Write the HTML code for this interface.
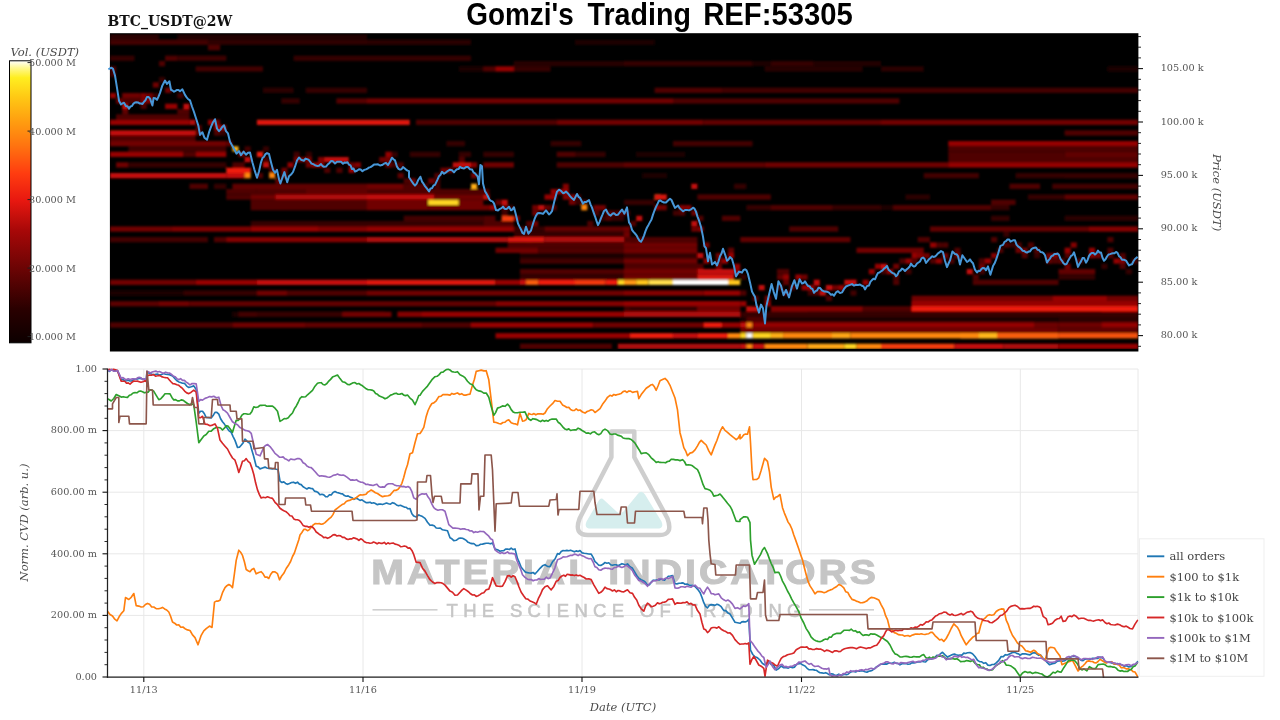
<!DOCTYPE html>
<html lang="en"><head><meta charset="utf-8"><title>Gomzi's Trading REF:53305</title>
<style>html,body{margin:0;padding:0;background:#fff;overflow:hidden}svg{display:block}text{font-family:"DejaVu Serif","Liberation Serif",serif;fill:#555}.tk{font-size:9.7px}.lb{font-size:11.5px;font-style:italic;fill:#4a4a4a}.lg{font-size:11.5px;fill:#444}.ln{fill:none;stroke-width:1.65;stroke-linejoin:round;stroke-linecap:round}</style></head><body>
<svg width="1280" height="720" viewBox="0 0 1280 720">
<defs><clipPath id="hc"><rect x="110" y="33.4" width="1028" height="317.8"/></clipPath>
<clipPath id="pc"><rect x="107.2" y="33" width="1031" height="318.5"/></clipPath>
<clipPath id="lc"><rect x="107.5" y="368" width="1031" height="310"/></clipPath>
<linearGradient id="cb" x1="0" y1="1" x2="0" y2="0">
<stop offset="0" stop-color="#0c0000"/>
<stop offset="0.12" stop-color="#2a0000"/>
<stop offset="0.26" stop-color="#6a0404"/>
<stop offset="0.4" stop-color="#a80808"/>
<stop offset="0.505" stop-color="#e81810"/>
<stop offset="0.6" stop-color="#ff3c10"/>
<stop offset="0.7" stop-color="#ff7410"/>
<stop offset="0.79" stop-color="#ffa010"/>
<stop offset="0.87" stop-color="#ffc814"/>
<stop offset="0.94" stop-color="#ffee20"/>
<stop offset="0.975" stop-color="#fff890"/>
<stop offset="1" stop-color="#ffffff"/>
</linearGradient>
<filter id="bl" x="0" y="0" width="1" height="1"><feGaussianBlur stdDeviation="0.8"/></filter>
</defs>
<rect width="1280" height="720" fill="#fff"/>
<text y="25" style="font-family:'Liberation Sans','DejaVu Sans',sans-serif;font-weight:bold;font-size:31px;fill:#000"><tspan x="466.2" textLength="107.5" lengthAdjust="spacingAndGlyphs">Gomzi's</tspan> <tspan x="587.6" textLength="103.3" lengthAdjust="spacingAndGlyphs">Trading</tspan> <tspan x="703.2" textLength="149.5" lengthAdjust="spacingAndGlyphs">REF:53305</tspan></text>
<text x="107.5" y="25.6" style="font-weight:bold;font-size:14px;fill:#111">BTC_USDT@2W</text>
<text x="10.5" y="55.5" class="lb">Vol. (USDT)</text>
<rect x="9.5" y="60.8" width="21.5" height="282" fill="url(#cb)" stroke="#000" stroke-width="1"/>
<line x1="27.5" x2="31" y1="62.6" y2="62.6" stroke="#222" stroke-width="1"/>
<text x="29" y="66.1" class="tk">50.000 M</text>
<line x1="27.5" x2="31" y1="131.1" y2="131.1" stroke="#222" stroke-width="1"/>
<text x="29" y="134.6" class="tk">40.000 M</text>
<line x1="27.5" x2="31" y1="199.6" y2="199.6" stroke="#222" stroke-width="1"/>
<text x="29" y="203.1" class="tk">30.000 M</text>
<line x1="27.5" x2="31" y1="268.1" y2="268.1" stroke="#222" stroke-width="1"/>
<text x="29" y="271.6" class="tk">20.000 M</text>
<line x1="27.5" x2="31" y1="336.6" y2="336.6" stroke="#222" stroke-width="1"/>
<text x="29" y="340.1" class="tk">10.000 M</text>
<rect x="109.9" y="33.2" width="1028.5" height="318.3" fill="#000"/>
<g clip-path="url(#hc)"><g filter="url(#bl)">
<rect x="110" y="66.3" width="6.1" height="5.3" fill="#500101"/>
<rect x="110" y="71.6" width="6.1" height="5.3" fill="#420000"/>
<rect x="122.2" y="98.3" width="6.1" height="5.3" fill="#500101"/>
<rect x="122.2" y="109" width="6.1" height="5.3" fill="#600202"/>
<rect x="140.6" y="93" width="6.1" height="5.3" fill="#830404"/>
<rect x="140.6" y="98.3" width="6.1" height="5.3" fill="#830404"/>
<rect x="140.6" y="103.7" width="6.1" height="5.3" fill="#500101"/>
<rect x="146.7" y="98.3" width="6.1" height="5.3" fill="#830404"/>
<rect x="152.8" y="93" width="6.1" height="5.3" fill="#340000"/>
<rect x="159" y="77" width="6.1" height="5.3" fill="#340000"/>
<rect x="177.3" y="93" width="6.1" height="5.3" fill="#420000"/>
<rect x="195.7" y="125" width="6.1" height="5.3" fill="#500101"/>
<rect x="195.7" y="130.3" width="6.1" height="5.3" fill="#500101"/>
<rect x="201.8" y="141" width="6.1" height="5.3" fill="#700303"/>
<rect x="214" y="119.7" width="6.1" height="5.3" fill="#700303"/>
<rect x="214" y="130.3" width="6.1" height="5.3" fill="#500101"/>
<rect x="220.1" y="130.3" width="6.1" height="5.3" fill="#340000"/>
<rect x="226.3" y="141" width="6.1" height="5.3" fill="#600202"/>
<rect x="244.6" y="146.3" width="6.1" height="5.3" fill="#420000"/>
<rect x="256.9" y="173" width="6.1" height="5.3" fill="#500101"/>
<rect x="263" y="146.3" width="6.1" height="5.3" fill="#340000"/>
<rect x="263" y="157" width="6.1" height="5.3" fill="#420000"/>
<rect x="269.1" y="167.7" width="6.1" height="5.3" fill="#500101"/>
<rect x="275.2" y="178.3" width="6.1" height="5.3" fill="#600202"/>
<rect x="281.3" y="167.7" width="6.1" height="5.3" fill="#700303"/>
<rect x="281.3" y="173" width="6.1" height="5.3" fill="#600202"/>
<rect x="293.6" y="151.7" width="6.1" height="5.3" fill="#420000"/>
<rect x="305.8" y="151.7" width="6.1" height="5.3" fill="#340000"/>
<rect x="305.8" y="162.3" width="6.1" height="5.3" fill="#700303"/>
<rect x="318" y="157" width="6.1" height="5.3" fill="#830404"/>
<rect x="324.2" y="167.7" width="6.1" height="5.3" fill="#500101"/>
<rect x="336.4" y="157" width="6.1" height="5.3" fill="#600202"/>
<rect x="336.4" y="167.7" width="6.1" height="5.3" fill="#500101"/>
<rect x="348.6" y="162.3" width="6.1" height="5.3" fill="#700303"/>
<rect x="354.8" y="162.3" width="6.1" height="5.3" fill="#830404"/>
<rect x="385.4" y="157" width="6.1" height="5.3" fill="#420000"/>
<rect x="385.4" y="162.3" width="6.1" height="5.3" fill="#700303"/>
<rect x="391.5" y="151.7" width="6.1" height="5.3" fill="#340000"/>
<rect x="391.5" y="162.3" width="6.1" height="5.3" fill="#420000"/>
<rect x="397.6" y="162.3" width="6.1" height="5.3" fill="#500101"/>
<rect x="397.6" y="173" width="6.1" height="5.3" fill="#600202"/>
<rect x="409.8" y="178.3" width="6.1" height="5.3" fill="#700303"/>
<rect x="422.1" y="189" width="6.1" height="5.3" fill="#500101"/>
<rect x="428.2" y="194.4" width="6.1" height="5.3" fill="#420000"/>
<rect x="434.3" y="173" width="6.1" height="5.3" fill="#500101"/>
<rect x="434.3" y="178.3" width="6.1" height="5.3" fill="#420000"/>
<rect x="434.3" y="183.7" width="6.1" height="5.3" fill="#420000"/>
<rect x="446.5" y="167.7" width="6.1" height="5.3" fill="#600202"/>
<rect x="458.8" y="157" width="6.1" height="5.3" fill="#500101"/>
<rect x="464.9" y="162.3" width="6.1" height="5.3" fill="#340000"/>
<rect x="471" y="162.3" width="6.1" height="5.3" fill="#830404"/>
<rect x="471" y="173" width="6.1" height="5.3" fill="#700303"/>
<rect x="483.3" y="189" width="6.1" height="5.3" fill="#500101"/>
<rect x="495.5" y="199.7" width="6.1" height="5.3" fill="#600202"/>
<rect x="501.6" y="205" width="6.1" height="5.3" fill="#600202"/>
<rect x="501.6" y="210.4" width="6.1" height="5.3" fill="#420000"/>
<rect x="507.7" y="205" width="6.1" height="5.3" fill="#340000"/>
<rect x="507.7" y="215.7" width="6.1" height="5.3" fill="#340000"/>
<rect x="520" y="226.4" width="6.1" height="5.3" fill="#340000"/>
<rect x="526.1" y="237" width="6.1" height="5.3" fill="#700303"/>
<rect x="532.2" y="221" width="6.1" height="5.3" fill="#700303"/>
<rect x="544.5" y="205" width="6.1" height="5.3" fill="#600202"/>
<rect x="550.6" y="194.4" width="6.1" height="5.3" fill="#420000"/>
<rect x="550.6" y="205" width="6.1" height="5.3" fill="#500101"/>
<rect x="562.8" y="183.7" width="6.1" height="5.3" fill="#830404"/>
<rect x="562.8" y="194.4" width="6.1" height="5.3" fill="#830404"/>
<rect x="568.9" y="194.4" width="6.1" height="5.3" fill="#830404"/>
<rect x="575" y="194.4" width="6.1" height="5.3" fill="#420000"/>
<rect x="575" y="199.7" width="6.1" height="5.3" fill="#340000"/>
<rect x="581.2" y="199.7" width="6.1" height="5.3" fill="#500101"/>
<rect x="593.4" y="210.4" width="6.1" height="5.3" fill="#500101"/>
<rect x="599.5" y="205" width="6.1" height="5.3" fill="#700303"/>
<rect x="599.5" y="215.7" width="6.1" height="5.3" fill="#340000"/>
<rect x="605.6" y="210.4" width="6.1" height="5.3" fill="#500101"/>
<rect x="605.6" y="215.7" width="6.1" height="5.3" fill="#500101"/>
<rect x="611.8" y="215.7" width="6.1" height="5.3" fill="#340000"/>
<rect x="617.9" y="215.7" width="6.1" height="5.3" fill="#340000"/>
<rect x="624" y="210.4" width="6.1" height="5.3" fill="#420000"/>
<rect x="630.1" y="221" width="6.1" height="5.3" fill="#500101"/>
<rect x="636.2" y="242.4" width="6.1" height="5.3" fill="#420000"/>
<rect x="654.6" y="205" width="6.1" height="5.3" fill="#830404"/>
<rect x="660.7" y="205" width="6.1" height="5.3" fill="#700303"/>
<rect x="673" y="210.4" width="6.1" height="5.3" fill="#420000"/>
<rect x="679.1" y="205" width="6.1" height="5.3" fill="#830404"/>
<rect x="679.1" y="210.4" width="6.1" height="5.3" fill="#500101"/>
<rect x="685.2" y="205" width="6.1" height="5.3" fill="#830404"/>
<rect x="691.3" y="210.4" width="6.1" height="5.3" fill="#700303"/>
<rect x="697.4" y="215.7" width="6.1" height="5.3" fill="#500101"/>
<rect x="697.4" y="226.4" width="6.1" height="5.3" fill="#830404"/>
<rect x="703.5" y="242.4" width="6.1" height="5.3" fill="#700303"/>
<rect x="709.7" y="269" width="6.1" height="5.3" fill="#500101"/>
<rect x="715.8" y="258.4" width="6.1" height="5.3" fill="#600202"/>
<rect x="715.8" y="263.7" width="6.1" height="5.3" fill="#700303"/>
<rect x="728" y="247.7" width="6.1" height="5.3" fill="#600202"/>
<rect x="734.1" y="269" width="6.1" height="5.3" fill="#830404"/>
<rect x="740.3" y="274.4" width="6.1" height="5.3" fill="#340000"/>
<rect x="752.5" y="295.7" width="6.1" height="5.3" fill="#500101"/>
<rect x="764.7" y="295.7" width="6.1" height="5.3" fill="#700303"/>
<rect x="777" y="274.4" width="6.1" height="5.3" fill="#600202"/>
<rect x="777" y="285" width="6.1" height="5.3" fill="#420000"/>
<rect x="783.1" y="279.7" width="6.1" height="5.3" fill="#600202"/>
<rect x="783.1" y="290.4" width="6.1" height="5.3" fill="#500101"/>
<rect x="789.2" y="285" width="6.1" height="5.3" fill="#500101"/>
<rect x="801.5" y="274.4" width="6.1" height="5.3" fill="#700303"/>
<rect x="807.6" y="285" width="6.1" height="5.3" fill="#500101"/>
<rect x="807.6" y="290.4" width="6.1" height="5.3" fill="#420000"/>
<rect x="813.7" y="285" width="6.1" height="5.3" fill="#340000"/>
<rect x="813.7" y="290.4" width="6.1" height="5.3" fill="#500101"/>
<rect x="825.9" y="295.7" width="6.1" height="5.3" fill="#500101"/>
<rect x="832" y="285" width="6.1" height="5.3" fill="#700303"/>
<rect x="850.4" y="279.7" width="6.1" height="5.3" fill="#420000"/>
<rect x="850.4" y="290.4" width="6.1" height="5.3" fill="#420000"/>
<rect x="881" y="269" width="6.1" height="5.3" fill="#420000"/>
<rect x="893.2" y="274.4" width="6.1" height="5.3" fill="#500101"/>
<rect x="893.2" y="279.7" width="6.1" height="5.3" fill="#500101"/>
<rect x="899.4" y="258.4" width="6.1" height="5.3" fill="#500101"/>
<rect x="905.5" y="269" width="6.1" height="5.3" fill="#420000"/>
<rect x="911.6" y="258.4" width="6.1" height="5.3" fill="#500101"/>
<rect x="917.7" y="253" width="6.1" height="5.3" fill="#830404"/>
<rect x="930" y="258.4" width="6.1" height="5.3" fill="#500101"/>
<rect x="936.1" y="242.4" width="6.1" height="5.3" fill="#500101"/>
<rect x="942.2" y="253" width="6.1" height="5.3" fill="#700303"/>
<rect x="948.3" y="258.4" width="6.1" height="5.3" fill="#500101"/>
<rect x="954.4" y="247.7" width="6.1" height="5.3" fill="#500101"/>
<rect x="972.8" y="274.4" width="6.1" height="5.3" fill="#500101"/>
<rect x="978.9" y="258.4" width="6.1" height="5.3" fill="#500101"/>
<rect x="978.9" y="269" width="6.1" height="5.3" fill="#420000"/>
<rect x="991.1" y="253" width="6.1" height="5.3" fill="#830404"/>
<rect x="997.3" y="247.7" width="6.1" height="5.3" fill="#500101"/>
<rect x="1003.4" y="231.7" width="6.1" height="5.3" fill="#340000"/>
<rect x="1009.5" y="242.4" width="6.1" height="5.3" fill="#340000"/>
<rect x="1015.6" y="242.4" width="6.1" height="5.3" fill="#500101"/>
<rect x="1021.7" y="247.7" width="6.1" height="5.3" fill="#700303"/>
<rect x="1021.7" y="253" width="6.1" height="5.3" fill="#500101"/>
<rect x="1034" y="247.7" width="6.1" height="5.3" fill="#500101"/>
<rect x="1034" y="253" width="6.1" height="5.3" fill="#340000"/>
<rect x="1046.2" y="253" width="6.1" height="5.3" fill="#700303"/>
<rect x="1046.2" y="258.4" width="6.1" height="5.3" fill="#600202"/>
<rect x="1052.3" y="253" width="6.1" height="5.3" fill="#830404"/>
<rect x="1058.5" y="258.4" width="6.1" height="5.3" fill="#600202"/>
<rect x="1064.6" y="253" width="6.1" height="5.3" fill="#500101"/>
<rect x="1064.6" y="263.7" width="6.1" height="5.3" fill="#700303"/>
<rect x="1070.7" y="242.4" width="6.1" height="5.3" fill="#830404"/>
<rect x="1076.8" y="258.4" width="6.1" height="5.3" fill="#500101"/>
<rect x="1089" y="253" width="6.1" height="5.3" fill="#830404"/>
<rect x="1101.3" y="263.7" width="6.1" height="5.3" fill="#340000"/>
<rect x="1107.4" y="247.7" width="6.1" height="5.3" fill="#500101"/>
<rect x="1107.4" y="253" width="6.1" height="5.3" fill="#500101"/>
<rect x="1119.6" y="253" width="6.1" height="5.3" fill="#500101"/>
<rect x="1119.6" y="258.4" width="6.1" height="5.3" fill="#830404"/>
<rect x="1119.6" y="263.7" width="6.1" height="5.3" fill="#500101"/>
<rect x="1125.8" y="269" width="6.1" height="5.3" fill="#340000"/>
<rect x="1131.9" y="258.4" width="6.1" height="5.3" fill="#420000"/>
<rect x="110" y="34.3" width="49" height="5.3" fill="#290000"/>
<rect x="177.3" y="34.3" width="189.7" height="5.3" fill="#220000"/>
<rect x="110" y="39.6" width="97.9" height="5.3" fill="#420000"/>
<rect x="207.9" y="39.6" width="159.1" height="5.3" fill="#2d0000"/>
<rect x="367" y="39.6" width="104" height="5.3" fill="#290000"/>
<rect x="575" y="39.6" width="49" height="5.3" fill="#1e0000"/>
<rect x="624" y="39.6" width="30.6" height="5.3" fill="#1e0000"/>
<rect x="207.9" y="45" width="12.2" height="5.3" fill="#500101"/>
<rect x="110" y="55.6" width="24.5" height="5.3" fill="#340000"/>
<rect x="165.1" y="55.6" width="12.2" height="5.3" fill="#500101"/>
<rect x="177.3" y="55.6" width="49" height="5.3" fill="#3c0000"/>
<rect x="293.6" y="55.6" width="73.4" height="5.3" fill="#340000"/>
<rect x="367" y="55.6" width="104" height="5.3" fill="#340000"/>
<rect x="159" y="61" width="6.1" height="5.3" fill="#500101"/>
<rect x="513.9" y="61" width="110.1" height="5.3" fill="#270000"/>
<rect x="624" y="61" width="128.5" height="5.3" fill="#340000"/>
<rect x="752.5" y="61" width="18.4" height="5.3" fill="#1e0000"/>
<rect x="770.9" y="61" width="42.8" height="5.3" fill="#340000"/>
<rect x="813.7" y="61" width="67.3" height="5.3" fill="#220000"/>
<rect x="195.7" y="66.3" width="67.3" height="5.3" fill="#3f0000"/>
<rect x="458.8" y="66.3" width="24.5" height="5.3" fill="#1e0000"/>
<rect x="483.3" y="66.3" width="12.2" height="5.3" fill="#500101"/>
<rect x="495.5" y="66.3" width="18.4" height="5.3" fill="#960606"/>
<rect x="513.9" y="66.3" width="36.7" height="5.3" fill="#340000"/>
<rect x="764.7" y="66.3" width="97.9" height="5.3" fill="#270000"/>
<rect x="881" y="66.3" width="42.8" height="5.3" fill="#290000"/>
<rect x="1107.4" y="66.3" width="30.6" height="5.3" fill="#1e0000"/>
<rect x="152.8" y="82.3" width="6.1" height="5.3" fill="#700303"/>
<rect x="165.1" y="87.7" width="6.1" height="5.3" fill="#700303"/>
<rect x="263" y="87.7" width="30.6" height="5.3" fill="#2b0000"/>
<rect x="305.8" y="87.7" width="61.2" height="5.3" fill="#340000"/>
<rect x="654.6" y="87.7" width="67.3" height="5.3" fill="#500101"/>
<rect x="721.9" y="87.7" width="159.1" height="5.3" fill="#3f0000"/>
<rect x="881" y="87.7" width="257" height="5.3" fill="#420000"/>
<rect x="110" y="93" width="6.1" height="5.3" fill="#960606"/>
<rect x="122.2" y="93" width="18.4" height="5.3" fill="#700303"/>
<rect x="146.7" y="93" width="6.1" height="5.3" fill="#700303"/>
<rect x="116.1" y="98.3" width="6.1" height="5.3" fill="#700303"/>
<rect x="122.2" y="98.3" width="18.4" height="5.3" fill="#500101"/>
<rect x="281.3" y="98.3" width="18.4" height="5.3" fill="#340000"/>
<rect x="336.4" y="98.3" width="30.6" height="5.3" fill="#560101"/>
<rect x="367" y="98.3" width="257" height="5.3" fill="#700303"/>
<rect x="624" y="98.3" width="49" height="5.3" fill="#700303"/>
<rect x="673" y="98.3" width="208" height="5.3" fill="#500101"/>
<rect x="881" y="98.3" width="18.4" height="5.3" fill="#500101"/>
<rect x="122.2" y="103.7" width="6.1" height="5.3" fill="#c40a08"/>
<rect x="165.1" y="103.7" width="12.2" height="5.3" fill="#960606"/>
<rect x="183.4" y="103.7" width="6.1" height="5.3" fill="#c40a08"/>
<rect x="177.3" y="109" width="12.2" height="5.3" fill="#500101"/>
<rect x="116.1" y="114.3" width="73.4" height="5.3" fill="#500101"/>
<rect x="110" y="119.7" width="79.5" height="5.3" fill="#960606"/>
<rect x="189.5" y="119.7" width="6.1" height="5.3" fill="#b20807"/>
<rect x="207.9" y="119.7" width="6.1" height="5.3" fill="#960606"/>
<rect x="256.9" y="119.7" width="110.1" height="5.3" fill="#dd150a"/>
<rect x="367" y="119.7" width="42.8" height="5.3" fill="#dd150a"/>
<rect x="416" y="119.7" width="140.7" height="5.3" fill="#500101"/>
<rect x="556.7" y="119.7" width="67.3" height="5.3" fill="#700303"/>
<rect x="624" y="119.7" width="79.5" height="5.3" fill="#700303"/>
<rect x="703.5" y="119.7" width="177.5" height="5.3" fill="#600202"/>
<rect x="881" y="119.7" width="257" height="5.3" fill="#700303"/>
<rect x="214" y="125" width="12.2" height="5.3" fill="#960606"/>
<rect x="110" y="130.3" width="85.7" height="5.3" fill="#c40a08"/>
<rect x="1064.6" y="130.3" width="73.4" height="5.3" fill="#500101"/>
<rect x="110" y="135.7" width="85.7" height="5.3" fill="#500101"/>
<rect x="110" y="141" width="116.3" height="5.3" fill="#700303"/>
<rect x="446.5" y="141" width="18.4" height="5.3" fill="#340000"/>
<rect x="550.6" y="141" width="30.6" height="5.3" fill="#340000"/>
<rect x="673" y="141" width="79.5" height="5.3" fill="#420000"/>
<rect x="948.3" y="141" width="189.7" height="5.3" fill="#960606"/>
<rect x="128.4" y="146.3" width="97.9" height="5.3" fill="#420000"/>
<rect x="232.4" y="146.3" width="6.1" height="5.3" fill="#ffb71a"/>
<rect x="948.3" y="146.3" width="189.7" height="5.3" fill="#500101"/>
<rect x="110" y="151.7" width="73.4" height="5.3" fill="#960606"/>
<rect x="183.4" y="151.7" width="12.2" height="5.3" fill="#500101"/>
<rect x="195.7" y="151.7" width="30.6" height="5.3" fill="#960606"/>
<rect x="238.5" y="151.7" width="6.1" height="5.3" fill="#700303"/>
<rect x="256.9" y="151.7" width="6.1" height="5.3" fill="#ee1c0c"/>
<rect x="385.4" y="151.7" width="6.1" height="5.3" fill="#960606"/>
<rect x="409.8" y="151.7" width="30.6" height="5.3" fill="#340000"/>
<rect x="458.8" y="151.7" width="12.2" height="5.3" fill="#340000"/>
<rect x="483.3" y="151.7" width="30.6" height="5.3" fill="#340000"/>
<rect x="556.7" y="151.7" width="18.4" height="5.3" fill="#500101"/>
<rect x="575" y="151.7" width="30.6" height="5.3" fill="#340000"/>
<rect x="636.2" y="151.7" width="49" height="5.3" fill="#1e0000"/>
<rect x="948.3" y="151.7" width="116.3" height="5.3" fill="#500101"/>
<rect x="1064.6" y="151.7" width="73.4" height="5.3" fill="#600202"/>
<rect x="244.6" y="157" width="6.1" height="5.3" fill="#c40a08"/>
<rect x="293.6" y="157" width="18.4" height="5.3" fill="#700303"/>
<rect x="324.2" y="157" width="24.5" height="5.3" fill="#c40a08"/>
<rect x="379.2" y="157" width="12.2" height="5.3" fill="#700303"/>
<rect x="948.3" y="157" width="189.7" height="5.3" fill="#500101"/>
<rect x="116.1" y="162.3" width="12.2" height="5.3" fill="#700303"/>
<rect x="128.4" y="162.3" width="97.9" height="5.3" fill="#340000"/>
<rect x="232.4" y="162.3" width="12.2" height="5.3" fill="#500101"/>
<rect x="263" y="162.3" width="6.1" height="5.3" fill="#c40a08"/>
<rect x="287.5" y="162.3" width="6.1" height="5.3" fill="#960606"/>
<rect x="311.9" y="162.3" width="12.2" height="5.3" fill="#960606"/>
<rect x="452.7" y="162.3" width="18.4" height="5.3" fill="#c40a08"/>
<rect x="483.3" y="162.3" width="30.6" height="5.3" fill="#700303"/>
<rect x="556.7" y="162.3" width="67.3" height="5.3" fill="#500101"/>
<rect x="624" y="162.3" width="140.7" height="5.3" fill="#600202"/>
<rect x="764.7" y="162.3" width="116.3" height="5.3" fill="#700303"/>
<rect x="881" y="162.3" width="67.3" height="5.3" fill="#700303"/>
<rect x="948.3" y="162.3" width="189.7" height="5.3" fill="#960606"/>
<rect x="226.3" y="167.7" width="24.5" height="5.3" fill="#ee1c0c"/>
<rect x="348.6" y="167.7" width="6.1" height="5.3" fill="#960606"/>
<rect x="440.4" y="167.7" width="12.2" height="5.3" fill="#700303"/>
<rect x="110" y="173" width="116.3" height="5.3" fill="#c40a08"/>
<rect x="226.3" y="173" width="18.4" height="5.3" fill="#c40a08"/>
<rect x="244.6" y="173" width="6.1" height="5.3" fill="#ff8810"/>
<rect x="269.1" y="173" width="6.1" height="5.3" fill="#ff8810"/>
<rect x="642.4" y="173" width="24.5" height="5.3" fill="#1e0000"/>
<rect x="923.8" y="173" width="55.1" height="5.3" fill="#420000"/>
<rect x="1015.6" y="173" width="122.4" height="5.3" fill="#340000"/>
<rect x="1064.6" y="173" width="73.4" height="5.3" fill="#340000"/>
<rect x="403.7" y="178.3" width="6.1" height="5.3" fill="#500101"/>
<rect x="428.2" y="178.3" width="6.1" height="5.3" fill="#700303"/>
<rect x="189.5" y="183.7" width="18.4" height="5.3" fill="#500101"/>
<rect x="214" y="183.7" width="12.2" height="5.3" fill="#340000"/>
<rect x="232.4" y="183.7" width="134.6" height="5.3" fill="#600202"/>
<rect x="367" y="183.7" width="36.7" height="5.3" fill="#700303"/>
<rect x="403.7" y="183.7" width="24.5" height="5.3" fill="#500101"/>
<rect x="471" y="183.7" width="6.1" height="5.3" fill="#ffaf18"/>
<rect x="691.3" y="183.7" width="6.1" height="5.3" fill="#c40a08"/>
<rect x="734.1" y="183.7" width="12.2" height="5.3" fill="#340000"/>
<rect x="1009.5" y="183.7" width="30.6" height="5.3" fill="#500101"/>
<rect x="1052.3" y="183.7" width="85.7" height="5.3" fill="#420000"/>
<rect x="226.3" y="189" width="30.6" height="5.3" fill="#500101"/>
<rect x="256.9" y="189" width="49" height="5.3" fill="#500101"/>
<rect x="305.8" y="189" width="61.2" height="5.3" fill="#600202"/>
<rect x="367" y="189" width="61.2" height="5.3" fill="#500101"/>
<rect x="428.2" y="189" width="55.1" height="5.3" fill="#500101"/>
<rect x="550.6" y="189" width="6.1" height="5.3" fill="#960606"/>
<rect x="556.7" y="189" width="12.2" height="5.3" fill="#960606"/>
<rect x="226.3" y="194.4" width="24.5" height="5.3" fill="#500101"/>
<rect x="250.7" y="194.4" width="24.5" height="5.3" fill="#700303"/>
<rect x="275.2" y="194.4" width="91.8" height="5.3" fill="#b20807"/>
<rect x="367" y="194.4" width="67.3" height="5.3" fill="#c40a08"/>
<rect x="434.3" y="194.4" width="49" height="5.3" fill="#700303"/>
<rect x="483.3" y="194.4" width="6.1" height="5.3" fill="#c40a08"/>
<rect x="544.5" y="194.4" width="12.2" height="5.3" fill="#960606"/>
<rect x="654.6" y="194.4" width="6.1" height="5.3" fill="#ff8810"/>
<rect x="654.6" y="194.4" width="12.2" height="5.3" fill="#d9130a"/>
<rect x="697.4" y="194.4" width="73.4" height="5.3" fill="#500101"/>
<rect x="905.5" y="194.4" width="24.5" height="5.3" fill="#290000"/>
<rect x="1027.9" y="194.4" width="36.7" height="5.3" fill="#340000"/>
<rect x="1064.6" y="194.4" width="73.4" height="5.3" fill="#600202"/>
<rect x="250.7" y="199.7" width="116.3" height="5.3" fill="#500101"/>
<rect x="367" y="199.7" width="61.2" height="5.3" fill="#700303"/>
<rect x="428.2" y="199.7" width="30.6" height="5.3" fill="#ffd620"/>
<rect x="458.8" y="199.7" width="24.5" height="5.3" fill="#700303"/>
<rect x="501.6" y="199.7" width="6.1" height="5.3" fill="#c40a08"/>
<rect x="568.9" y="199.7" width="6.1" height="5.3" fill="#700303"/>
<rect x="624" y="199.7" width="30.6" height="5.3" fill="#340000"/>
<rect x="991.1" y="199.7" width="24.5" height="5.3" fill="#500101"/>
<rect x="250.7" y="205" width="116.3" height="5.3" fill="#500101"/>
<rect x="367" y="205" width="61.2" height="5.3" fill="#700303"/>
<rect x="428.2" y="205" width="61.2" height="5.3" fill="#700303"/>
<rect x="489.4" y="205" width="6.1" height="5.3" fill="#960606"/>
<rect x="532.2" y="205" width="6.1" height="5.3" fill="#700303"/>
<rect x="538.3" y="205" width="6.1" height="5.3" fill="#c40a08"/>
<rect x="581.2" y="205" width="6.1" height="5.3" fill="#ff8810"/>
<rect x="593.4" y="205" width="12.2" height="5.3" fill="#700303"/>
<rect x="746.4" y="205" width="24.5" height="5.3" fill="#340000"/>
<rect x="770.9" y="205" width="61.2" height="5.3" fill="#500101"/>
<rect x="832" y="205" width="49" height="5.3" fill="#340000"/>
<rect x="881" y="205" width="12.2" height="5.3" fill="#1e0000"/>
<rect x="893.2" y="205" width="97.9" height="5.3" fill="#500101"/>
<rect x="991.1" y="205" width="18.4" height="5.3" fill="#340000"/>
<rect x="532.2" y="210.4" width="6.1" height="5.3" fill="#700303"/>
<rect x="605.6" y="210.4" width="18.4" height="5.3" fill="#500101"/>
<rect x="403.7" y="215.7" width="79.5" height="5.3" fill="#420000"/>
<rect x="483.3" y="215.7" width="12.2" height="5.3" fill="#500101"/>
<rect x="501.6" y="215.7" width="12.2" height="5.3" fill="#f33c0d"/>
<rect x="513.9" y="215.7" width="6.1" height="5.3" fill="#700303"/>
<rect x="636.2" y="215.7" width="6.1" height="5.3" fill="#c40a08"/>
<rect x="721.9" y="215.7" width="18.4" height="5.3" fill="#500101"/>
<rect x="991.1" y="215.7" width="18.4" height="5.3" fill="#340000"/>
<rect x="1064.6" y="215.7" width="73.4" height="5.3" fill="#290000"/>
<rect x="250.7" y="221" width="116.3" height="5.3" fill="#340000"/>
<rect x="367" y="221" width="116.3" height="5.3" fill="#340000"/>
<rect x="483.3" y="221" width="30.6" height="5.3" fill="#500101"/>
<rect x="526.1" y="221" width="6.1" height="5.3" fill="#500101"/>
<rect x="587.3" y="221" width="6.1" height="5.3" fill="#500101"/>
<rect x="691.3" y="221" width="6.1" height="5.3" fill="#c40a08"/>
<rect x="110" y="226.4" width="61.2" height="5.3" fill="#700303"/>
<rect x="171.2" y="226.4" width="79.5" height="5.3" fill="#7b0404"/>
<rect x="250.7" y="226.4" width="67.3" height="5.3" fill="#960606"/>
<rect x="318" y="226.4" width="49" height="5.3" fill="#830404"/>
<rect x="367" y="226.4" width="146.9" height="5.3" fill="#960606"/>
<rect x="513.9" y="226.4" width="30.6" height="5.3" fill="#340000"/>
<rect x="544.5" y="226.4" width="79.5" height="5.3" fill="#600202"/>
<rect x="624" y="226.4" width="6.1" height="5.3" fill="#700303"/>
<rect x="691.3" y="226.4" width="6.1" height="5.3" fill="#700303"/>
<rect x="789.2" y="226.4" width="49" height="5.3" fill="#500101"/>
<rect x="930" y="226.4" width="159.1" height="5.3" fill="#600202"/>
<rect x="1089" y="226.4" width="49" height="5.3" fill="#830404"/>
<rect x="513.9" y="231.7" width="110.1" height="5.3" fill="#340000"/>
<rect x="624" y="231.7" width="6.1" height="5.3" fill="#700303"/>
<rect x="110" y="237" width="97.9" height="5.3" fill="#420000"/>
<rect x="214" y="237" width="12.2" height="5.3" fill="#500101"/>
<rect x="226.3" y="237" width="140.7" height="5.3" fill="#830404"/>
<rect x="367" y="237" width="140.7" height="5.3" fill="#ad0807"/>
<rect x="507.7" y="237" width="36.7" height="5.3" fill="#d9130a"/>
<rect x="544.5" y="237" width="79.5" height="5.3" fill="#ad0807"/>
<rect x="624" y="237" width="6.1" height="5.3" fill="#c40a08"/>
<rect x="624" y="237" width="73.4" height="5.3" fill="#500101"/>
<rect x="740.3" y="237" width="110.1" height="5.3" fill="#600202"/>
<rect x="917.7" y="237" width="12.2" height="5.3" fill="#500101"/>
<rect x="991.1" y="237" width="6.1" height="5.3" fill="#500101"/>
<rect x="1107.4" y="237" width="6.1" height="5.3" fill="#500101"/>
<rect x="507.7" y="242.4" width="116.3" height="5.3" fill="#500101"/>
<rect x="624" y="242.4" width="73.4" height="5.3" fill="#700303"/>
<rect x="930" y="242.4" width="6.1" height="5.3" fill="#960606"/>
<rect x="942.2" y="242.4" width="6.1" height="5.3" fill="#500101"/>
<rect x="1003.4" y="242.4" width="6.1" height="5.3" fill="#500101"/>
<rect x="1027.9" y="242.4" width="6.1" height="5.3" fill="#500101"/>
<rect x="495.5" y="247.7" width="42.8" height="5.3" fill="#700303"/>
<rect x="538.3" y="247.7" width="85.7" height="5.3" fill="#500101"/>
<rect x="624" y="247.7" width="73.4" height="5.3" fill="#700303"/>
<rect x="856.5" y="247.7" width="24.5" height="5.3" fill="#700303"/>
<rect x="881" y="247.7" width="42.8" height="5.3" fill="#700303"/>
<rect x="1015.6" y="247.7" width="6.1" height="5.3" fill="#700303"/>
<rect x="1064.6" y="247.7" width="6.1" height="5.3" fill="#960606"/>
<rect x="1089" y="247.7" width="6.1" height="5.3" fill="#960606"/>
<rect x="520" y="253" width="104" height="5.3" fill="#1e0000"/>
<rect x="624" y="253" width="73.4" height="5.3" fill="#340000"/>
<rect x="697.4" y="253" width="6.1" height="5.3" fill="#c40a08"/>
<rect x="715.8" y="253" width="6.1" height="5.3" fill="#700303"/>
<rect x="728" y="253" width="6.1" height="5.3" fill="#960606"/>
<rect x="911.6" y="253" width="6.1" height="5.3" fill="#960606"/>
<rect x="923.8" y="253" width="6.1" height="5.3" fill="#700303"/>
<rect x="954.4" y="253" width="6.1" height="5.3" fill="#700303"/>
<rect x="1095.2" y="253" width="6.1" height="5.3" fill="#700303"/>
<rect x="520" y="258.4" width="104" height="5.3" fill="#420000"/>
<rect x="624" y="258.4" width="73.4" height="5.3" fill="#700303"/>
<rect x="703.5" y="258.4" width="6.1" height="5.3" fill="#960606"/>
<rect x="721.9" y="258.4" width="6.1" height="5.3" fill="#960606"/>
<rect x="905.5" y="258.4" width="6.1" height="5.3" fill="#960606"/>
<rect x="936.1" y="258.4" width="6.1" height="5.3" fill="#960606"/>
<rect x="985" y="258.4" width="6.1" height="5.3" fill="#960606"/>
<rect x="1052.3" y="258.4" width="6.1" height="5.3" fill="#500101"/>
<rect x="1113.5" y="258.4" width="6.1" height="5.3" fill="#960606"/>
<rect x="624" y="263.7" width="79.5" height="5.3" fill="#500101"/>
<rect x="734.1" y="263.7" width="6.1" height="5.3" fill="#960606"/>
<rect x="874.9" y="263.7" width="6.1" height="5.3" fill="#960606"/>
<rect x="881" y="263.7" width="6.1" height="5.3" fill="#c40a08"/>
<rect x="893.2" y="263.7" width="6.1" height="5.3" fill="#700303"/>
<rect x="978.9" y="263.7" width="6.1" height="5.3" fill="#700303"/>
<rect x="520" y="269" width="104" height="5.3" fill="#500101"/>
<rect x="624" y="269" width="73.4" height="5.3" fill="#700303"/>
<rect x="697.4" y="269" width="36.7" height="5.3" fill="#c40a08"/>
<rect x="777" y="269" width="12.2" height="5.3" fill="#500101"/>
<rect x="868.8" y="269" width="6.1" height="5.3" fill="#960606"/>
<rect x="887.1" y="269" width="6.1" height="5.3" fill="#960606"/>
<rect x="966.7" y="269" width="6.1" height="5.3" fill="#c40a08"/>
<rect x="1058.5" y="269" width="36.7" height="5.3" fill="#600202"/>
<rect x="520" y="274.4" width="104" height="5.3" fill="#340000"/>
<rect x="624" y="274.4" width="73.4" height="5.3" fill="#700303"/>
<rect x="697.4" y="274.4" width="36.7" height="5.3" fill="#dd150a"/>
<rect x="783.1" y="274.4" width="6.1" height="5.3" fill="#960606"/>
<rect x="795.3" y="274.4" width="6.1" height="5.3" fill="#960606"/>
<rect x="1058.5" y="274.4" width="36.7" height="5.3" fill="#340000"/>
<rect x="110" y="279.7" width="85.7" height="5.3" fill="#700303"/>
<rect x="195.7" y="279.7" width="61.2" height="5.3" fill="#960606"/>
<rect x="256.9" y="279.7" width="110.1" height="5.3" fill="#c40a08"/>
<rect x="367" y="279.7" width="128.5" height="5.3" fill="#dd150a"/>
<rect x="495.5" y="279.7" width="24.5" height="5.3" fill="#960606"/>
<rect x="520" y="279.7" width="6.1" height="5.3" fill="#c40a08"/>
<rect x="526.1" y="279.7" width="12.2" height="5.3" fill="#f85d0e"/>
<rect x="538.3" y="279.7" width="36.7" height="5.3" fill="#ee1c0c"/>
<rect x="575" y="279.7" width="30.6" height="5.3" fill="#f2370d"/>
<rect x="605.6" y="279.7" width="12.2" height="5.3" fill="#ee1c0c"/>
<rect x="617.9" y="279.7" width="6.1" height="5.3" fill="#ffd620"/>
<rect x="624" y="279.7" width="12.2" height="5.3" fill="#ff9813"/>
<rect x="636.2" y="279.7" width="12.2" height="5.3" fill="#ffc61d"/>
<rect x="648.5" y="279.7" width="24.5" height="5.3" fill="#ffde4d"/>
<rect x="673" y="279.7" width="55.1" height="5.3" fill="#ffffff"/>
<rect x="728" y="279.7" width="12.2" height="5.3" fill="#ffc61d"/>
<rect x="813.7" y="279.7" width="6.1" height="5.3" fill="#c40a08"/>
<rect x="844.3" y="279.7" width="12.2" height="5.3" fill="#c40a08"/>
<rect x="862.6" y="279.7" width="6.1" height="5.3" fill="#960606"/>
<rect x="972.8" y="279.7" width="85.7" height="5.3" fill="#500101"/>
<rect x="758.6" y="285" width="6.1" height="5.3" fill="#c40a08"/>
<rect x="801.5" y="285" width="12.2" height="5.3" fill="#960606"/>
<rect x="825.9" y="285" width="6.1" height="5.3" fill="#c40a08"/>
<rect x="838.2" y="285" width="6.1" height="5.3" fill="#960606"/>
<rect x="110" y="290.4" width="73.4" height="5.3" fill="#1e0000"/>
<rect x="183.4" y="290.4" width="73.4" height="5.3" fill="#340000"/>
<rect x="256.9" y="290.4" width="30.6" height="5.3" fill="#700303"/>
<rect x="287.5" y="290.4" width="79.5" height="5.3" fill="#500101"/>
<rect x="367" y="290.4" width="257" height="5.3" fill="#700303"/>
<rect x="624" y="290.4" width="79.5" height="5.3" fill="#830404"/>
<rect x="703.5" y="290.4" width="36.7" height="5.3" fill="#960606"/>
<rect x="740.3" y="290.4" width="6.1" height="5.3" fill="#500101"/>
<rect x="819.8" y="290.4" width="6.1" height="5.3" fill="#c40a08"/>
<rect x="911.6" y="295.7" width="140.7" height="5.3" fill="#700303"/>
<rect x="1052.3" y="295.7" width="55.1" height="5.3" fill="#960606"/>
<rect x="1107.4" y="295.7" width="30.6" height="5.3" fill="#700303"/>
<rect x="110" y="301.1" width="49" height="5.3" fill="#5a0202"/>
<rect x="159" y="301.1" width="30.6" height="5.3" fill="#700303"/>
<rect x="189.5" y="301.1" width="177.5" height="5.3" fill="#600202"/>
<rect x="367" y="301.1" width="128.5" height="5.3" fill="#600202"/>
<rect x="495.5" y="301.1" width="128.5" height="5.3" fill="#830404"/>
<rect x="624" y="301.1" width="116.3" height="5.3" fill="#960606"/>
<rect x="630.1" y="301.1" width="110.1" height="5.3" fill="#960606"/>
<rect x="740.3" y="301.1" width="6.1" height="5.3" fill="#960606"/>
<rect x="764.7" y="301.1" width="6.1" height="5.3" fill="#960606"/>
<rect x="911.6" y="301.1" width="146.9" height="5.3" fill="#ad0807"/>
<rect x="911.6" y="301.1" width="226.4" height="5.3" fill="#960606"/>
<rect x="1058.5" y="301.1" width="79.5" height="5.3" fill="#960606"/>
<rect x="624" y="306.4" width="73.4" height="5.3" fill="#420000"/>
<rect x="630.1" y="306.4" width="67.3" height="5.3" fill="#340000"/>
<rect x="697.4" y="306.4" width="42.8" height="5.3" fill="#700303"/>
<rect x="697.4" y="306.4" width="42.8" height="5.3" fill="#700303"/>
<rect x="746.4" y="306.4" width="6.1" height="5.3" fill="#960606"/>
<rect x="746.4" y="306.4" width="12.2" height="5.3" fill="#c40a08"/>
<rect x="770.9" y="306.4" width="91.8" height="5.3" fill="#830404"/>
<rect x="770.9" y="306.4" width="91.8" height="5.3" fill="#830404"/>
<rect x="862.6" y="306.4" width="49" height="5.3" fill="#500101"/>
<rect x="862.6" y="306.4" width="18.4" height="5.3" fill="#500101"/>
<rect x="881" y="306.4" width="30.6" height="5.3" fill="#500101"/>
<rect x="911.6" y="306.4" width="146.9" height="5.3" fill="#ee1c0c"/>
<rect x="911.6" y="306.4" width="226.4" height="5.3" fill="#ee1c0c"/>
<rect x="1058.5" y="306.4" width="79.5" height="5.3" fill="#ee1c0c"/>
<rect x="232.4" y="311.7" width="24.5" height="5.3" fill="#1e0000"/>
<rect x="238.5" y="311.7" width="104" height="5.3" fill="#420000"/>
<rect x="256.9" y="311.7" width="85.7" height="5.3" fill="#340000"/>
<rect x="342.5" y="311.7" width="24.5" height="5.3" fill="#700303"/>
<rect x="342.5" y="311.7" width="42.8" height="5.3" fill="#700303"/>
<rect x="367" y="311.7" width="24.5" height="5.3" fill="#700303"/>
<rect x="397.6" y="311.7" width="24.5" height="5.3" fill="#700303"/>
<rect x="397.6" y="311.7" width="226.4" height="5.3" fill="#830404"/>
<rect x="422.1" y="311.7" width="318.2" height="5.3" fill="#960606"/>
<rect x="624" y="311.7" width="116.3" height="5.3" fill="#ad0807"/>
<rect x="740.3" y="311.7" width="171.3" height="5.3" fill="#340000"/>
<rect x="807.6" y="311.7" width="73.4" height="5.3" fill="#340000"/>
<rect x="881" y="311.7" width="257" height="5.3" fill="#340000"/>
<rect x="911.6" y="311.7" width="146.9" height="5.3" fill="#340000"/>
<rect x="1058.5" y="311.7" width="42.8" height="5.3" fill="#340000"/>
<rect x="740.3" y="317.1" width="318.2" height="5.3" fill="#1e0000"/>
<rect x="746.4" y="317.1" width="18.4" height="5.3" fill="#500101"/>
<rect x="1058.5" y="317.1" width="79.5" height="5.3" fill="#290000"/>
<rect x="110" y="322.4" width="122.4" height="5.3" fill="#500101"/>
<rect x="232.4" y="322.4" width="73.4" height="5.3" fill="#700303"/>
<rect x="305.8" y="322.4" width="116.3" height="5.3" fill="#600202"/>
<rect x="422.1" y="322.4" width="49" height="5.3" fill="#500101"/>
<rect x="471" y="322.4" width="122.4" height="5.3" fill="#960606"/>
<rect x="593.4" y="322.4" width="110.1" height="5.3" fill="#700303"/>
<rect x="703.5" y="322.4" width="18.4" height="5.3" fill="#ee1c0c"/>
<rect x="721.9" y="322.4" width="18.4" height="5.3" fill="#960606"/>
<rect x="740.3" y="322.4" width="6.1" height="5.3" fill="#c40a08"/>
<rect x="746.4" y="322.4" width="6.1" height="5.3" fill="#ff8810"/>
<rect x="752.5" y="322.4" width="281.5" height="5.3" fill="#960606"/>
<rect x="1034" y="322.4" width="24.5" height="5.3" fill="#700303"/>
<rect x="1058.5" y="322.4" width="42.8" height="5.3" fill="#700303"/>
<rect x="1101.3" y="322.4" width="36.7" height="5.3" fill="#960606"/>
<rect x="740.3" y="327.7" width="318.2" height="5.3" fill="#700303"/>
<rect x="1058.5" y="327.7" width="79.5" height="5.3" fill="#600202"/>
<rect x="495.5" y="333.1" width="134.6" height="5.3" fill="#960606"/>
<rect x="630.1" y="333.1" width="42.8" height="5.3" fill="#ee1c0c"/>
<rect x="673" y="333.1" width="24.5" height="5.3" fill="#c40a08"/>
<rect x="697.4" y="333.1" width="30.6" height="5.3" fill="#ee1c0c"/>
<rect x="728" y="333.1" width="12.2" height="5.3" fill="#ff8810"/>
<rect x="740.3" y="333.1" width="6.1" height="5.3" fill="#ffd620"/>
<rect x="746.4" y="333.1" width="6.1" height="5.3" fill="#ffffff"/>
<rect x="752.5" y="333.1" width="18.4" height="5.3" fill="#ffd620"/>
<rect x="770.9" y="333.1" width="12.2" height="5.3" fill="#ffaf18"/>
<rect x="783.1" y="333.1" width="49" height="5.3" fill="#ff8810"/>
<rect x="832" y="333.1" width="18.4" height="5.3" fill="#ffa716"/>
<rect x="850.4" y="333.1" width="128.5" height="5.3" fill="#ff8810"/>
<rect x="960.5" y="333.1" width="18.4" height="5.3" fill="#ff8810"/>
<rect x="978.9" y="333.1" width="18.4" height="5.3" fill="#ffa716"/>
<rect x="978.9" y="333.1" width="18.4" height="5.3" fill="#ffb71a"/>
<rect x="997.3" y="333.1" width="61.2" height="5.3" fill="#ff8810"/>
<rect x="997.3" y="333.1" width="61.2" height="5.3" fill="#f85d0e"/>
<rect x="1058.5" y="333.1" width="79.5" height="5.3" fill="#f6520e"/>
<rect x="520" y="343.7" width="91.8" height="5.3" fill="#500101"/>
<rect x="617.9" y="343.7" width="122.4" height="5.3" fill="#ad0807"/>
<rect x="740.3" y="343.7" width="6.1" height="5.3" fill="#c40a08"/>
<rect x="746.4" y="343.7" width="6.1" height="5.3" fill="#ff8810"/>
<rect x="752.5" y="343.7" width="12.2" height="5.3" fill="#c40a08"/>
<rect x="764.7" y="343.7" width="42.8" height="5.3" fill="#ff8810"/>
<rect x="807.6" y="343.7" width="36.7" height="5.3" fill="#ffa716"/>
<rect x="844.3" y="343.7" width="12.2" height="5.3" fill="#ffd620"/>
<rect x="856.5" y="343.7" width="24.5" height="5.3" fill="#ff8810"/>
<rect x="881" y="343.7" width="73.4" height="5.3" fill="#f33c0d"/>
<rect x="954.4" y="343.7" width="49" height="5.3" fill="#c40a08"/>
<rect x="1003.4" y="343.7" width="55.1" height="5.3" fill="#ad0807"/>
<rect x="1058.5" y="343.7" width="79.5" height="5.3" fill="#960606"/>
</g>
</g>
<polyline clip-path="url(#pc)" points="108.4,69.4 110,68.4 111.5,67.7 113,68.9 115,75.5 117,87.8 119,100.7 121,104.4 122.5,103.4 124,102.7 126,106.2 127.5,106.3 129,108.6 130.5,106.4 132,106.1 133.5,103.6 135,102.5 136.5,102.2 138,102.4 139.5,103.4 141,103.5 142.5,104 144,101.8 145.5,100.2 147,96.9 148.5,97 150,98.4 152.4,105.5 153.6,98 155.3,98.2 157,99.9 158.5,96.7 160,92.9 162.4,85.4 165,80.6 167,83.9 169.4,81.3 171,89.8 172.5,90.5 174,91.7 175.5,90.8 177,89.9 178.5,89.9 180,91.2 182.4,89.3 185,94.9 186.5,97.1 188,99 190,100.4 192,106.5 194,112 196.4,119.5 198.4,125.9 200,134.9 202.4,132.2 204.4,137.7 207,139.8 209,132.4 211,126.9 213,122.2 215,119.2 217,128.5 219,131.1 220.5,129.6 222,127.2 224,125.2 226,131.1 228,133.4 230,141.7 232,145.3 234.4,149.4 236.4,153.7 239,151.1 241,155.2 243.6,151.6 246,154.7 248,152.7 250,152.4 252.4,162.2 254.4,169.6 257,177.7 259,171.5 261,162.3 262.5,158 264,156.8 265.5,154.1 267,153.1 269,154 271,162.2 273,169.7 275,172.8 277,169.9 279,179.3 280.4,183.5 282.4,177.7 284.4,172.1 286,178 287.2,182.2 289,176.3 291,174.6 293,172 295,166.7 297,160.5 299,157.5 301,159.7 302.5,160.3 304,160.7 305.5,158.6 307,159.1 308.5,159.6 310,161.5 311.5,163.6 313,164 315,165.2 317,165.9 319,165.8 321,164.1 322.5,166 324,166.8 326,166.6 328,164.2 329.5,162.9 331,161 333,161.3 335,163.5 337,161.8 339,161.7 341,161.7 343,163.7 344.5,162.6 346,162.8 347.5,162.3 349,164.7 350.5,165.4 352,169 353.5,168.5 355,171.5 357,170.8 359,169.3 360.7,169.5 362.4,171.2 364.2,169.9 366,169.4 367.5,168.6 369,167.5 370.5,167.1 372,166.1 374,164.6 376,164.4 378,164.3 380,165.5 382,165.1 384,163.7 386,162.8 388,165.1 390,161.7 392,157.7 393.5,159.2 395,160.4 397,166.7 398.5,168.8 400,169.6 401.5,169.3 403,167 404.5,168.2 406,169.6 407.5,170.6 409,171.1 409,177.3 410.5,179.5 412,181.7 413.5,183.9 415,185.6 416.7,183.7 418.4,179.7 420.4,176.7 422,181.6 423.5,183.7 425,186.1 427,188.7 429,191.5 430.5,188.5 432,188.3 433.5,185.5 435,184.9 437.6,179.4 439,176.2 440.5,174.8 442,171.8 444,173.8 446,172.4 448,170.8 450,169.7 452,170.3 454,172.4 455.5,170.5 457,169.3 458.5,169.1 460,166.9 462,168.1 464,168.5 466,167.1 468,167.1 470,169.2 472,169.5 473.5,172.4 475,173.3 477.6,176.4 479,184.2 480.4,164.9 482,166.3 483,183.6 485,191.2 486.5,193.6 488,196.5 489.5,199.7 491,200.9 492.5,201.4 494,203.4 496,210.1 498,210.4 500,208.8 501.5,208.1 503,206.6 504.5,208.8 506,209.1 507.5,208.3 509,206.7 511,210.3 512.5,209.3 514,207.2 516,215.1 518,223.5 519.5,226.6 521,229.5 522.5,233 524,234 526,226.8 528.4,233.7 531,230.5 533,223.8 534.5,219.2 536,215.7 537.5,213.2 539,213.1 541,213.3 543,213.9 544.5,212.1 546,210.4 547.5,212.4 549,214.5 550.5,213.2 552,211.2 554.4,201.1 557,191.6 559,189.7 561,190.8 563,193.2 564.5,192.7 566,191.6 568,193.4 570,196.1 572,198.3 574,199.9 575.5,196.9 577,194 578.5,196.8 580,197.8 581.5,200.8 583,203.7 584.5,202 586,202.1 587.5,201.1 589,200.1 590.5,204.3 592,207.6 593.5,212.2 595,216.3 596.5,220.9 598,225.1 599.5,222.1 601,218.1 602.5,214.7 604,211 606,209.5 607.5,212.7 609,214.6 610.7,215.7 612.3,213.8 614,213.2 616,214.9 618,214.7 620,212 622,209.6 624.4,213.7 627,207.4 629,222.4 630.5,224.6 632,229.8 633.5,231.9 635,233.5 636.5,235.3 638,238.2 639.5,240.7 641,241.8 642.5,239.2 644,235.6 645.5,231.1 647,227.5 648.5,224.9 650,222.1 651.5,219.4 653,214.6 654.5,210.5 656,206.9 657.5,203.9 659,200.8 660.5,200.5 662,201.6 664,202.5 666,202.5 668,200.5 670,198.8 671.5,200 673,203.5 675,207.9 676.5,206.8 678,205.5 679.5,208.1 681,209.4 683,211.3 685,210 687,209.9 689,210.4 691,209.4 693,207.7 694.5,208.7 696,211.6 697.5,216.6 699,220.4 701,227 703,236.6 704.4,246.2 706,248.2 708,261.3 710,252.8 712,264.4 713.5,263.2 715,261.9 717,265.5 718.5,261.4 720,256.2 721.5,253.6 723,248.8 725,254.3 727,260.7 728.5,259.5 730,257.1 732,258.9 734,266 736,276.4 737.5,274 739,271.6 740.5,272 742,272.6 743.5,270 745,269.3 746.5,270.4 748,274.2 750,282.4 752,291.5 753.5,294.4 755,296.8 756.4,304.9 759,312.6 761,304.6 763,308.3 765,323.4 766.4,306.1 769,294.8 771.6,283.9 773.6,291.6 776,298.8 778.4,281.3 781,285.8 783.6,295.2 786,290 787.5,293.5 789,297.4 790.5,291.7 792,286.1 794.4,280.2 797,288.6 799.6,279.2 802,283.4 803.5,283.1 805,281.4 806.5,283.8 808,285.9 809.5,286.2 811,288.3 812.5,289 814,292.8 815.5,291.1 817,290.5 818.5,287.7 820,288 822,290.4 824,291.4 825.5,291.4 827,291.7 829,292.6 831,294.8 832.5,294.3 834,295.7 836,292.4 838,291.2 840,293.1 842,292.4 844,288.9 846,286.5 848,285.6 850,284.9 852,284.1 854,285.6 856,284.8 858,284.9 860,284.5 862,285.8 863.5,286.4 865,289.4 867,286.1 869,285.5 870.5,281.6 872,280.1 873.5,278.7 875,279.3 876.5,275.8 878,272.9 879.5,272.5 881,271.3 882.5,270.4 884,268.6 885.5,267.5 887,265.9 888.5,269.7 890,270.9 891.5,272.4 893,273.2 894.5,273.7 896,276.2 897.5,274.7 899,271.4 900.5,270.7 902,268.6 903.5,269.4 905,271 906.5,269.5 908,268.3 909.5,266.8 911,263.6 912.5,265.6 914,266.6 915.5,265.8 917,263.5 918.5,262.5 920,261.5 921.5,258.4 923,257.5 924.5,258.8 926,263 927.5,261.1 929,259.2 930.5,258 932,256.3 933.5,256.9 935,256.6 936.5,255.2 938,253.3 939.5,252.4 941,251.1 943,252.2 945,260.7 947,267.1 948.5,263.5 950,260.4 952.4,251.5 955,253.9 956.5,254.2 958,256.1 960,264.5 962.4,255.3 965,259 967,262 968.5,261 970,259.4 971.5,261.8 973,263.3 975,269.7 977,272.5 978.5,270.7 980,271 981.5,268.9 983,267.9 984.5,268.2 986,270.3 988,266.4 990.4,274.8 993,266.1 994.5,263.6 996,259.9 998,254 1000.4,245.9 1003,244.9 1004.5,241.9 1006,241.2 1007.5,239.5 1009,239.4 1010.5,241.6 1012,240.9 1013.5,240.2 1015,240.3 1016.5,244.6 1018,246.3 1019.5,247.3 1021,248.7 1022.5,250.7 1024,250.9 1025.5,252 1027,252.6 1028.5,251.6 1030,251.4 1031.5,249.1 1033,248.2 1034.5,247.8 1036,247.5 1037.5,249.7 1039,250 1040.5,252 1042,252.2 1043.5,253.1 1045,255.3 1047,262.6 1048.5,260.3 1050,258.6 1051.5,256.1 1053,255.5 1054.5,253.9 1056,254.1 1057.5,253.4 1059,255 1060.5,258.9 1062,260.8 1063.5,263.3 1065,264.4 1066.5,264.1 1068,261.1 1069.5,258.4 1071,255.9 1072.5,255.1 1074,252.3 1076,259 1078,266.9 1079.5,263.8 1081,261.4 1082.5,258.1 1084,257.9 1086,262.7 1087.5,260.3 1089,255.9 1090.5,253.8 1092,252.9 1093.5,253 1095,254.6 1096.5,253.2 1098,250.5 1099.5,252.6 1101,252.5 1102.5,257.7 1104,260.8 1105.5,259.3 1107,256.5 1108.5,254.5 1110,254.1 1111.5,253.6 1113,253.3 1114.5,253.2 1116,251.9 1117.5,252.8 1119,256.2 1120.5,257.3 1122,259.8 1124,259.8 1126,260.6 1127.5,263.1 1129,265.5 1130.5,264.6 1132,264.2 1133.5,261.2 1135,259 1137.6,256.9" fill="none" stroke="#4797d8" stroke-width="2.0" stroke-linejoin="round"/>
<line x1="1138" x2="1141" y1="346.3" y2="346.3" stroke="#111" stroke-width="0.9"/>
<line x1="1138" x2="1143" y1="335.6" y2="335.6" stroke="#111" stroke-width="1.1"/>
<text x="1160.7" y="338.2" class="tk">80.00 k</text>
<line x1="1138" x2="1141" y1="324.9" y2="324.9" stroke="#111" stroke-width="0.9"/>
<line x1="1138" x2="1141" y1="314.2" y2="314.2" stroke="#111" stroke-width="0.9"/>
<line x1="1138" x2="1141" y1="303.6" y2="303.6" stroke="#111" stroke-width="0.9"/>
<line x1="1138" x2="1141" y1="292.9" y2="292.9" stroke="#111" stroke-width="0.9"/>
<line x1="1138" x2="1143" y1="282.2" y2="282.2" stroke="#111" stroke-width="1.1"/>
<text x="1160.7" y="284.8" class="tk">85.00 k</text>
<line x1="1138" x2="1141" y1="271.5" y2="271.5" stroke="#111" stroke-width="0.9"/>
<line x1="1138" x2="1141" y1="260.8" y2="260.8" stroke="#111" stroke-width="0.9"/>
<line x1="1138" x2="1141" y1="250.2" y2="250.2" stroke="#111" stroke-width="0.9"/>
<line x1="1138" x2="1141" y1="239.5" y2="239.5" stroke="#111" stroke-width="0.9"/>
<line x1="1138" x2="1143" y1="228.8" y2="228.8" stroke="#111" stroke-width="1.1"/>
<text x="1160.7" y="231.4" class="tk">90.00 k</text>
<line x1="1138" x2="1141" y1="218.1" y2="218.1" stroke="#111" stroke-width="0.9"/>
<line x1="1138" x2="1141" y1="207.4" y2="207.4" stroke="#111" stroke-width="0.9"/>
<line x1="1138" x2="1141" y1="196.8" y2="196.8" stroke="#111" stroke-width="0.9"/>
<line x1="1138" x2="1141" y1="186.1" y2="186.1" stroke="#111" stroke-width="0.9"/>
<line x1="1138" x2="1143" y1="175.4" y2="175.4" stroke="#111" stroke-width="1.1"/>
<text x="1160.7" y="178" class="tk">95.00 k</text>
<line x1="1138" x2="1141" y1="164.7" y2="164.7" stroke="#111" stroke-width="0.9"/>
<line x1="1138" x2="1141" y1="154" y2="154" stroke="#111" stroke-width="0.9"/>
<line x1="1138" x2="1141" y1="143.4" y2="143.4" stroke="#111" stroke-width="0.9"/>
<line x1="1138" x2="1141" y1="132.7" y2="132.7" stroke="#111" stroke-width="0.9"/>
<line x1="1138" x2="1143" y1="122" y2="122" stroke="#111" stroke-width="1.1"/>
<text x="1160.7" y="124.6" class="tk">100.00 k</text>
<line x1="1138" x2="1141" y1="111.3" y2="111.3" stroke="#111" stroke-width="0.9"/>
<line x1="1138" x2="1141" y1="100.6" y2="100.6" stroke="#111" stroke-width="0.9"/>
<line x1="1138" x2="1141" y1="90" y2="90" stroke="#111" stroke-width="0.9"/>
<line x1="1138" x2="1141" y1="79.3" y2="79.3" stroke="#111" stroke-width="0.9"/>
<line x1="1138" x2="1143" y1="68.6" y2="68.6" stroke="#111" stroke-width="1.1"/>
<text x="1160.7" y="71.2" class="tk">105.00 k</text>
<line x1="1138" x2="1141" y1="57.9" y2="57.9" stroke="#111" stroke-width="0.9"/>
<line x1="1138" x2="1141" y1="47.2" y2="47.2" stroke="#111" stroke-width="0.9"/>
<line x1="1138" x2="1141" y1="36.6" y2="36.6" stroke="#111" stroke-width="0.9"/>
<text class="lb" transform="translate(1212.5,192.5) rotate(90)" text-anchor="middle">Price (USDT)</text>
<line x1="143.8" x2="143.8" y1="369" y2="677" stroke="#e8e8e8" stroke-width="1"/>
<line x1="363" x2="363" y1="369" y2="677" stroke="#e8e8e8" stroke-width="1"/>
<line x1="582" x2="582" y1="369" y2="677" stroke="#e8e8e8" stroke-width="1"/>
<line x1="801.5" x2="801.5" y1="369" y2="677" stroke="#e8e8e8" stroke-width="1"/>
<line x1="1020.3" x2="1020.3" y1="369" y2="677" stroke="#e8e8e8" stroke-width="1"/>
<line x1="107.5" x2="1138" y1="677" y2="677" stroke="#e8e8e8" stroke-width="1"/>
<line x1="107.5" x2="1138" y1="615.4" y2="615.4" stroke="#e8e8e8" stroke-width="1"/>
<line x1="107.5" x2="1138" y1="553.8" y2="553.8" stroke="#e8e8e8" stroke-width="1"/>
<line x1="107.5" x2="1138" y1="492.2" y2="492.2" stroke="#e8e8e8" stroke-width="1"/>
<line x1="107.5" x2="1138" y1="430.6" y2="430.6" stroke="#e8e8e8" stroke-width="1"/>
<line x1="107.5" x2="1138" y1="369" y2="369" stroke="#e8e8e8" stroke-width="1"/>
<line x1="1138" x2="1138" y1="369" y2="677" stroke="#e8e8e8" stroke-width="1"/>
<g id="wm" fill="#c6c6c6" stroke="none">
<text transform="translate(371.3,583.6) scale(1.09,1)" textLength="463" lengthAdjust="spacing" style="font-family:'Liberation Sans','DejaVu Sans',sans-serif;font-weight:bold;font-size:36px;fill:#c5c5c5;stroke:#c5c5c5;stroke-width:1.1px">MATERIAL INDICATORS</text>
<text x="446.5" y="617.3" textLength="355" lengthAdjust="spacing" style="font-family:'Liberation Sans','DejaVu Sans',sans-serif;font-size:18.5px;fill:#c6c6c6;stroke:#c6c6c6;stroke-width:0.55px">THE SCIENCE OF TRADING</text>
<rect x="372.5" y="609" width="65" height="1.6" fill="#cfcfcf"/><rect x="809" y="609" width="65" height="1.6" fill="#cfcfcf"/>
<path d="M611.4,431.6 H634.3 M611.4,431.6 V457.3 L579.6,518.5 Q573.5,535 588,535 H659.5 Q673.5,535 667.5,518.5 L634.3,457.3 V431.6" fill="none" stroke="#cecece" stroke-width="4.5" stroke-linejoin="round" stroke-linecap="round"/>
<path d="M586.5,521.5 L598.8,500.5 Q601,497 604,500 L616.5,511.5 Q620,514.5 623.5,511.5 L637.8,494 Q641.5,489.5 645,494.5 L661.5,521.5 Q664.5,528.6 657,528.6 H591 Q583.5,528.6 586.5,521.5 Z" fill="#d6eeee"/>
</g>
<g clip-path="url(#lc)">
<polyline class="ln" stroke="#1f77b4" points="107.5,370 109.5,371.3 111.5,369.5 113.5,370.6 115.5,370.5 117.5,370.9 119.4,375.2 121.2,379.9 123,379.4 124.8,381.2 126.5,380.7 128.2,380.2 130,381 131.9,380.9 133.8,379.3 135.6,379.3 137.5,378.9 139.2,378.2 141,378.6 142.8,379 144.5,379.4 146.2,380.6 147,372 148.8,373.1 150.5,373.8 152.2,374.3 154,374.7 155.8,374.2 157.5,374 159.5,375.1 161.5,374.6 163.5,373.5 165.5,374.2 167.5,374.5 169.4,374.8 171.2,375.4 173.1,376.5 175,378.8 176.9,380.8 178.8,381.9 180.6,382.6 182.5,383.3 184.6,383.4 186.7,386.1 188.8,387.5 191.2,386.8 193.8,385.9 196.2,389.5 198.8,413.3 200.6,411.2 202.5,411.2 204.4,413.8 206.2,417.5 208.8,417.6 211.2,418 213.1,415.6 215,412.4 216.9,412.3 218.8,414.1 220.6,418.7 222.5,421.7 224.4,424.1 226.2,426.7 228.8,430.6 231.2,432.4 233.1,436.6 235,440.4 237.5,447.4 239.4,447.3 241.2,445.2 243.1,442.9 245,439.2 247.5,441.7 250,443.4 251.9,450.3 253.8,456.7 256.2,466.3 258.1,466.9 260,468.9 262.5,468 265,467.1 266.9,468 268.8,468.5 270.6,468.6 272.5,468.9 274.3,468.5 276.2,469.2 278,469.5 280,481.1 281.9,482.5 283.8,481.9 285.6,483.4 287.5,484.3 289.5,483.5 291.5,482.5 293.5,482.2 295.5,483.3 297.5,482.2 299.4,484.1 301.2,484.6 303.1,486.7 305,487.9 306.9,489 308.8,487.8 310.6,488.4 312.5,488.6 314.4,491.1 316.2,491.6 318.1,492.6 320,494.8 321.9,494.3 323.8,494.9 325.6,496.6 327.5,496.8 329.4,494.7 331.2,494.9 333.1,492.4 335,491.5 336.9,492.5 338.8,492.9 340.6,493.6 342.5,493.9 344.4,495.5 346.2,496.2 348.1,495.9 350,497.1 352,497.7 354,499.3 356,498.2 358,499.1 360,500.4 362,499.8 364,501.3 366,502.6 368,502.6 370,502.2 371.8,503.2 373.6,502.8 375.4,503.5 377.1,504.7 378.9,504.1 380.7,504 382.5,504.5 384.5,503.8 386.5,503 388.5,503.8 390.5,504.2 392.5,502.7 394.5,503.4 396.5,504.9 398.5,505.8 400.5,505.3 402.5,506.2 404.4,507.1 406.2,507.3 408.1,508.8 410,508.6 411.9,513.8 413.8,516.1 416.2,517 418.8,514.9 420,515.5 422.5,516.6 425,518.4 427.5,522.3 430,525.3 432.1,525.1 434.2,525.8 436.2,528 438.3,528.3 440.4,528.1 442.5,529.8 445,530.2 447.5,530.8 450,537.8 451.9,538.8 453.8,540.6 456.2,540.3 458.8,538.4 460.6,538 462.5,538.3 464.4,539.3 466.2,540.4 468.1,542.3 470,543.1 471.9,543.6 473.8,543.5 476.2,545.6 478.8,545.4 480.6,544.3 482.5,544.1 484.4,543.6 486.2,543.3 488.3,543.2 490.4,543.8 492.5,542.9 495,549 497.5,549.7 500,551.3 501.9,550.7 503.8,550.7 505.6,549.1 507.5,549 509.4,549.5 511.2,548.2 513.1,549.6 515,548.9 517.5,558.7 519.4,562.7 521.2,567.3 523.3,569.8 525.4,572.1 527.5,572.6 529.4,573 531.2,573.1 533.1,572.5 535,574 537.5,571.3 540,568.3 542.5,565.8 545,564.7 547.5,566.4 550,566.7 552.5,561.8 555,559 557.5,553.6 559.4,554.1 561.2,551.6 563.1,550.6 565,550.8 566.9,550.4 568.8,550.7 570.6,550.2 572.5,550.9 574.4,551.8 576.2,550.9 578.1,551.5 580,550.5 582.1,552.9 584.2,553.3 586.2,553.5 588.8,554 591.2,554.1 593.1,557.3 595,561.6 596.9,563.2 598.8,565.2 600.8,565.4 602.9,564.3 605,562.5 606.9,563.2 608.8,562.8 610.6,564.7 612.5,565.2 614.4,564.7 616.2,564.7 618.1,565.8 620,564.7 621.9,563.7 623.8,564.3 625.6,564.8 627.5,563.9 630,566.7 632.5,568.3 634.6,571.9 636.7,575.5 638.8,578.3 641.2,579.7 643.8,581 645.6,582.5 647.5,585.2 649.4,584.7 651.2,582.2 653.3,580.2 655.4,580.4 657.5,579.9 659.2,580 661,579 662.8,579.6 664.5,580.1 666.2,578.5 668.3,576.3 670.4,576 672.5,575.6 675,583.8 677,583.9 679,583.2 681,583.1 683,582.9 685,584.3 687,584.1 689,585.1 691,585.4 693,585.4 695,586.4 697.5,589.1 700,592.4 701.9,597.3 703.8,602.7 705.6,606.3 707.5,607.9 709.4,605.2 711.2,604.6 713.1,604.9 715,605.4 716.9,604.3 718.8,604.9 721.2,606.7 723.8,610.6 725.8,610.6 727.9,612.9 730,614 732.5,618.1 735,622.2 737.5,622.7 740,623.3 741.8,621.9 743.5,621.6 745.2,622 747,621.2 748.8,619.2 750.5,650.2 752.8,654.5 755,656.8 757.5,657.8 760,660 762.5,663.6 765,664.9 766.9,663.2 768.8,661.4 771.2,664.4 773.8,665.5 776.2,670.1 778.8,668.5 781.2,666 783.8,667.7 786.2,667.8 788.3,668.1 790.4,666.9 792.5,667.6 794.6,667.1 796.7,664.3 798.8,663.6 800.8,663.6 802.9,665.1 805,666 807.1,668.3 809.2,669.8 811.2,669.7 813,669.6 814.8,670.1 816.5,670.3 818.2,671.7 820,672.7 821.9,672.9 823.8,673.2 825.6,672.7 827.5,673.6 829.4,674.9 831.2,673.8 833.1,674.1 835,675.4 836.9,675.2 838.8,674.2 840.6,675.1 842.5,675 844.4,674.3 846.2,674.6 848.1,674.2 850,672.5 851.9,671.5 853.8,671.4 855.6,672 857.5,671 859.4,671.2 861.2,670.8 863.1,670.9 865,671.8 866.9,672.2 868.8,671.2 870.6,670.9 872.5,670.2 874.6,668.7 876.7,666.7 878.8,665.7 880.8,664.2 882.9,664.3 885,663.9 886.9,664.1 888.8,663.1 890.6,663.2 892.5,663 894.4,662.3 896.2,663.4 898.1,663.3 900,664.8 902,663.8 904,663.6 906,663.5 908,664.3 910,664 912,662.6 914,662.9 916,662.5 918,661.7 920,661.9 921.9,661.3 923.8,661.8 925.6,662 927.5,659.9 929.4,658.8 931.2,658.9 933.1,658.4 935,657.4 936.9,655.3 938.8,655.5 940.6,653.6 942.5,652.3 945,654.8 947.5,657.1 950,655.8 952.5,654.6 954.4,654.1 956.2,654.8 958.1,655.2 960,655 961.9,655.1 963.8,653.1 965.6,653.5 967.5,652.8 970,652.5 972.5,653.8 975,656.5 977.5,660.3 979.6,661.6 981.7,661.8 983.8,663.3 985.8,662.7 987.9,665.1 990,665.5 992.1,664.5 994.2,664.5 996.2,662.9 998.8,660.3 1001.2,656.5 1003.3,656.7 1005.4,654.7 1007.5,655 1010,653.7 1012.5,652.4 1014.6,652.1 1016.7,653.4 1018.8,654 1020,655.3 1022.5,653.8 1025,653.8 1027.5,654.4 1030,654.9 1032.5,653 1035,652.6 1036.9,654 1038.8,655.3 1040.6,654.9 1043.1,658.4 1045,659.5 1046.9,662.2 1049.4,664.7 1052.5,663.6 1055,663.1 1057.5,661.2 1060,660.6 1062.5,661.2 1065,660.6 1067.5,658.7 1069.6,658.1 1071.7,656.4 1073.8,656.4 1075.9,656.3 1078.1,658.2 1081.2,660.4 1083.1,660.6 1085,659.2 1087.5,658.7 1090,659.3 1092.5,658.4 1095,658.2 1097.5,658.4 1100,657.1 1103.1,658.1 1105,661.7 1107.5,662.3 1110,662.4 1112.5,663.3 1115,664.2 1117.5,663.5 1120,664.5 1122.1,664.9 1124.2,666.3 1126.2,665.6 1128.8,667 1131.2,666.5 1133.1,664.7 1135,664.5 1137.5,661.7"/>
<polyline class="ln" stroke="#ff7f0e" points="107.5,611.2 110,614.5 112.5,616 114.8,619.2 117,620.8 119.1,616.8 121.2,613.6 123.8,610.8 125.5,597.5 128.8,599.5 131.2,597.3 133.8,593.5 136.2,605.6 138.8,606.1 141.2,607 143.3,606.7 145.4,604.5 147.5,603.4 149.6,604.3 151.7,606.9 153.8,607 156.2,608.7 158.8,608.6 160.6,608.3 162.5,607.4 164.6,608.9 166.7,610 168.8,612 170.6,616.2 172.5,622.1 174.6,623.2 176.7,625 178.8,624.9 180.8,627.2 182.9,627 185,628.7 187.5,629.9 190,630.5 192.5,634.9 195,637.6 198,644.8 201.2,635.3 203.8,630.9 206.2,628.6 209.5,626.1 212,627.4 214.5,602.1 216.3,601.1 218.2,601.1 220,600.2 222.5,592.7 225,587.6 226.9,585.7 228.8,584.5 230.6,585.5 232.5,587.6 234.4,573.8 236.2,560.4 238.8,550.2 240.6,552.2 242.5,555.4 244.4,561.7 246.2,569.5 248.1,570.7 250,571.7 251.9,569.4 253.8,568.4 256.2,573.8 258.8,572.6 261.2,571.7 263.1,573.8 265,577.1 266.9,577 268.8,578.5 270.6,574.5 272.5,571.9 275,571.8 277.5,573.7 279.5,579.8 281.6,576 283.8,573.3 286.2,568.5 288.8,564.7 290.6,561.5 292.5,556.5 294.4,553 296.2,547.6 298.8,539.7 300,535 301.9,532.5 303.8,529.3 305.6,529.3 307.5,530.7 309.4,529.6 311.2,527.3 313.3,524.9 315.4,523.5 317.5,523.8 319.4,523.6 321.2,524.2 323.1,523.9 325,522.6 327.1,520.6 329.2,518.7 331.2,517.1 333.1,514.4 335,510 337.5,508.1 340,506.2 342.1,504.6 344.2,503.8 346.2,501.5 348.3,500.6 350.4,500.1 352.5,499.1 354.5,498.6 356.5,497.5 358.5,495.8 360.5,494.7 362.5,495 364.2,494.6 366,494.2 367.8,492.1 369.5,491.1 371.2,490 373.3,491.3 375.4,492.7 377.5,493.5 380,495.2 382.5,496.7 384.4,496.1 386.2,496 388.1,495.7 390,495.1 392.1,492.7 394.2,490.3 396.2,490.3 398.1,489.2 400,486.9 401.9,483.3 403.8,477.3 405.6,470.3 407.5,464.8 410,453.8 412.5,452.7 415,442.7 417.5,433.8 420,433.5 421.9,430.7 423.8,427.4 426.2,416.4 428.1,410.5 430,406.5 431.9,403.5 433.8,402.9 436.2,400.8 438.8,396.6 440.8,396.3 442.9,394.6 445,394.5 447.5,394.6 450,395.1 451.9,393.4 453.8,394.2 455.6,393.6 457.5,392.9 459.6,394.5 461.7,393.7 463.8,395.1 465.8,395.1 467.9,394.5 470,394.1 472.5,385.1 474.4,379.2 476.2,371.4 478.8,370.7 481.2,370.1 483.8,370.9 486.2,370.7 488.8,379.8 491.2,399.8 493.8,422.1 496.2,422.5 498.8,423.5 500.8,424 502.9,422.5 505,422.2 506.9,420.5 508.8,419.9 511.2,422.7 513.8,423.8 515.6,423.9 517.5,424.8 520,413.4 522.5,421.1 524.4,420.7 526.2,419.6 528.8,413.4 530.5,414.3 532.2,414.5 534,413.6 535.8,414.8 537.5,413.9 539.4,413.8 541.2,413.9 543.1,414.3 545,413 547.5,408.7 550,406 552.5,403.7 555,400.5 557.5,401.2 560,401.3 562.5,404.9 565,406.2 566.9,407.5 568.8,407.4 570.6,409.5 572.5,410.5 574.4,410.5 576.2,408.8 578.1,410.4 580,410 582.5,412 585,413.1 587.1,411.5 589.2,410.7 591.2,409.8 593.1,410.3 595,412.5 597.5,410.7 600,408.6 602.5,404.3 605,401.1 607.5,397.3 610,395.3 611.9,396.1 613.8,394.5 615.6,395.1 617.5,394.5 619.4,394.1 621.2,393.4 623.1,391.6 625,391 626.9,392.4 628.8,391 630.6,391.1 632.5,392.4 635,391.7 637.5,391.4 638.8,398.7 641.2,394.6 643.8,391.2 646.2,388.3 648.8,386.5 650.6,385.1 652.5,384.4 654.4,386.8 656.2,390.3 658.1,385.8 660,380.8 662.5,379.6 665,378.4 667.5,380.8 670,385.3 672.5,391.7 675,398 677.5,409.9 680,432.7 681.9,439.8 683.8,447.6 685.6,450.8 687.5,455.7 690,453.1 692.5,452.4 695,449.9 697.5,445.9 699.4,442.4 701.2,440.4 703.8,442.9 706.2,445 708.8,450.9 711.2,454.9 713.1,449.9 715,444.9 716.9,440.5 718.8,435.1 720.6,430.3 722.5,426.8 725,430.4 727.5,432.3 730,434.6 732.5,436.7 734.4,438.1 736.2,439.7 738.1,438.1 740,434.6 740,438.8 741.9,437.3 743.8,434.8 745.6,434 747.5,434.2 749.5,426.9 750.5,442.5 752,470.4 753,479.7 754.9,479.5 756.8,479.4 758.8,477.8 761.2,470.2 764.5,458.4 767.5,461.4 769.5,472.2 771.2,487.1 773.8,499.4 775.6,497.2 777.5,496.6 780,494.5 782.5,507.7 784.4,513.1 786.2,517.4 788.1,522.1 790,524.8 791.9,529 793.8,535 795.5,539.6 798.8,549 800.6,554.5 802.5,559.9 804.4,567.8 806.2,574.7 808.1,581.4 810,585.9 812.5,589.6 815,593.9 817.5,591.5 820,591.6 822.1,591.9 824.2,592.7 826.2,592 828.3,590.8 830.4,589.9 832.5,589.2 834.6,587.7 836.7,586.5 838.8,584.5 841.2,585.5 843.8,587.8 845.8,591.8 847.9,592.6 850,596.6 852.1,599.4 854.2,600.1 856.2,601.1 858.3,601.7 860.4,602.8 862.5,602.6 864.6,602.1 866.7,601.1 868.8,599 871.2,597.4 873.8,597.8 876.2,598.7 878.8,599.9 881.2,604.8 883.8,609.7 885.6,615.7 887.5,619.6 890,629.8 892.1,630 894.2,632.6 896.2,633.3 898.3,634.6 900.4,634.9 902.5,635 904.4,636.1 906.2,635.8 908.1,635.6 910,636.4 911.9,635.2 913.8,634.6 915.6,634 917.5,634.1 919.4,634.3 921.2,633.8 923.1,634.3 925,634.5 926.9,634 928.8,633.7 930.6,632.4 932.5,632.4 935,635.6 937.5,637.9 939.6,640 941.7,639.3 943.8,641.4 946.2,638.5 948.8,633.6 951.2,628.5 953.8,623.8 955.6,625.6 957.5,627.3 959.4,630.9 961.2,635.7 963.8,640.5 966.2,644.8 968.8,641.4 971.2,638.9 973.1,636.9 975,636 976.9,633.4 978.8,633 980.6,625.8 982.5,620.1 985,618.2 987.5,615.5 989.6,614.7 991.7,615.2 993.8,614.8 996.2,611.5 998.8,609.8 1001.2,608.9 1003.8,609.1 1006.2,620.1 1008.1,624.1 1010,629.9 1012.5,635.5 1015,639 1017.5,643.2 1020,645.1 1020,645.2 1021.9,646 1023.8,648.2 1025.6,650.7 1027.5,651.1 1030.6,652.2 1033.8,650.3 1035.6,651.3 1037.5,653.6 1039.4,654.4 1041.2,656.1 1043.1,658.9 1045,660.4 1046.9,654 1048.8,648.2 1050.6,647.3 1052.5,647.5 1054.4,648 1056.2,650.9 1058.1,653.4 1060,655.9 1061.9,664.7 1065,663.3 1066.9,662.5 1068.8,661.7 1070.6,661.1 1072.5,660.4 1075,665.2 1078.1,671 1081.2,667.2 1083.1,665.8 1085,663.7 1086.9,661.4 1088.8,660.9 1090.6,661.4 1092.5,661.5 1094.4,662.7 1096.2,662.9 1098.1,661.5 1100,659.3 1103.1,661.2 1106.2,663.1 1108.1,662.3 1110,662.1 1111.9,661.7 1113.8,663.8 1115.6,663.8 1117.5,664.6 1119.4,665.3 1121.2,667.8 1123.8,667.5 1126.2,668.9 1128.8,668.9 1131.2,669.8 1133.1,671.6 1135,672 1137.5,676.4"/>
<polyline class="ln" stroke="#2ca02c" points="107.5,398.8 109.4,399.8 111.2,401 113.8,398.5 116.2,394.5 118.8,395.8 121.2,397.1 123.3,396.7 125.4,397.2 127.5,397.4 129.4,395.2 131.2,394.7 133.1,393 135,392.6 136.9,392.8 138.8,391.4 140.6,391 142.5,391.8 144.4,392.8 146.2,392.4 148.1,392.1 150,389.8 151.9,390.1 153.8,391.3 156.2,395.3 158.8,399.7 160.8,398.7 162.9,396.4 165,393.7 167.5,393.7 170,393.9 171.9,397.4 173.8,399.9 175.6,399.6 177.5,400.9 179.4,400.9 181.2,399.9 183.3,400.4 185.4,402 187.5,403.5 189.6,404.8 191.7,403.6 193.8,405.2 196.2,422.2 198.8,442.7 201.2,439.4 203.8,435.9 206.2,434.6 208.8,431.3 211.2,431.2 213.8,428.7 216.2,427.5 218.8,427.5 220.6,428 222.5,430 224.4,428.2 226.2,425.7 228.1,426.1 230,428.8 232.5,432.3 234.4,425.9 236.2,420.3 238.1,420.5 240,418.6 241.9,415.1 243.8,413.8 245.8,413.7 247.9,414.2 250,414 251.9,411.4 253.8,406.8 255.8,407.5 257.9,407 260,405.3 262.5,405.3 265,405.2 266.9,406.2 268.8,406 270.6,406.1 272.5,406.1 275,408.2 277.5,411.2 280,421.4 282.1,420.1 284.2,418.6 286.2,418.7 288.3,417.7 290.4,415.1 292.5,413 294.4,408.8 296.2,406.2 298.1,402.5 300,398.3 301.9,396.7 303.8,397 305.6,396.8 307.5,394.8 310,392.7 312.5,390.4 315,386.2 317.5,383.3 319.4,382.8 321.2,382.7 323.1,384.5 325,384.9 326.9,383.5 328.8,381.1 330.6,379.4 332.5,377.1 335,376.1 337.5,375 340,378.6 342.5,381.8 345,382.4 347.5,384.4 349.4,384.7 351.2,383.7 353.1,382.8 355,382.6 356.9,384 358.8,383.5 360.6,384.7 362.5,385.8 364.4,387.4 366.2,388.8 368.1,389.7 370,389.7 371.9,390.1 373.8,391 375.6,393.5 377.5,394.3 379.4,396.1 381.2,396.8 383.1,397.5 385,398.8 386.9,398 388.8,396.6 390.6,395.1 392.5,394.5 394.4,393.6 396.2,393.2 398.1,394.2 400,394.1 401.9,393.5 403.8,395.1 405.6,395.6 407.5,395 410,398.1 412.5,400.1 415,404.7 416.9,400.5 418.8,395.5 420,395.3 422.5,391.4 425,388.8 427.5,386.1 430,382.6 432.5,379.1 435,376.7 437.1,376.3 439.2,374.6 441.2,372.2 443,372.1 444.8,370.6 446.5,369.5 448.2,369.3 450,370 451.9,371.6 453.8,372 455.6,372.2 457.5,371.7 460,374.7 462.5,375.9 465,377.7 467.5,381.2 470,383.8 472.5,384.7 474.4,387.6 476.2,389.7 478.8,390.9 481.2,391.4 483.8,393.1 486.2,393 488.8,397.2 491.2,406.6 493.8,415.3 495.6,412.6 497.5,408.1 500,407.2 502.5,405.9 505,406.3 507.5,404.2 509.4,406.1 511.2,409.6 513.1,411.9 515,412.7 517.5,412.8 520,412.2 522.5,412.3 525,411.9 526.9,416.1 528.8,419 530.8,420.3 532.9,418.7 535,419.1 536.9,419.6 538.8,420.7 540.6,421.6 542.5,420.3 544.4,421.3 546.2,420.4 548.1,421.2 550,419.7 552.1,419 554.2,419.1 556.2,419 558.1,422.2 560,423.5 562.5,426.6 565,429.1 566.9,429.8 568.8,428.8 570.6,430.5 572.5,430 574.4,429.8 576.2,429.8 578.1,428.2 580,429 582.1,430.5 584.2,431.7 586.2,433.2 588.3,432.9 590.4,433.8 592.5,432.2 594.6,431.8 596.7,433.7 598.8,434.7 600.8,433.6 602.9,430.4 605,429.1 607.5,430.6 610,434 611.9,434.5 613.8,434 615.6,434 617.5,435.1 619.4,435.6 621.2,436.2 623.1,438 625,438.5 626.9,438.6 628.8,438.6 630.6,439.2 632.5,440.6 635,443.1 637.5,447.2 639.4,450.2 641.2,453.6 643.8,453 646.2,452.8 648.8,454.7 651.2,457.8 653.8,460 656.2,462.4 658.1,461.7 660,462.4 661.9,462.5 663.8,462.5 665.6,462.8 667.5,461.5 669.4,461.1 671.2,459.2 673.3,459.4 675.4,459.9 677.5,459.8 680,460.6 682.5,459.7 684.4,461.5 686.2,465 688.3,464.8 690.4,465 692.5,465.8 695,467.9 697.5,469.6 699.4,473.7 701.2,478.9 703.1,484.7 705,488.6 707.5,489.3 710,490.2 711.9,492.2 713.8,496.1 715.8,495.6 717.9,495.2 720,494 722.5,496.9 725,500 727.5,503.3 730,506.2 731.9,509.6 733.8,514.8 736.2,521.2 738.1,521.4 740,521.5 740,519.7 741.9,518.1 743.8,516.8 745.6,516.8 747.5,517.2 750,522.7 750.5,539.8 752,555.2 754.5,564.2 756.6,560.9 758.8,557.4 760.6,554.4 762.5,550 764.5,547.5 767.5,553.6 769.4,558.9 771.2,563.5 773.1,567.3 775,572.8 776.9,572.3 778.8,572.3 780.6,576 782.5,581.1 785,585.7 787.5,591 789.6,594.6 791.7,599.2 793.8,602.9 796.2,606.9 798.8,611.6 801.2,618.2 803.8,623 806.2,628.6 808.8,632.5 811.2,637.1 813.8,639.6 815.8,640.7 817.9,641.4 820,641.7 821.9,641 823.8,639.7 825.6,639 827.5,639.5 829.4,637 831.2,637.2 833.1,634.8 835,634 836.9,633.3 838.8,633.3 840.6,633.4 842.5,631.7 844.2,630.2 846,630.2 847.8,630.3 849.5,630.4 851.2,629.1 853.3,631 855.4,630.7 857.5,632.5 859.4,631.9 861.2,633.8 863.1,635.5 865,634.9 866.9,634.8 868.8,635.5 870.6,633.8 872.5,634.1 874.6,634.1 876.7,635 878.8,636.2 880.8,637.4 882.9,638.1 885,639.8 887.5,641.5 890,645 892.5,650.2 895,653.9 897.5,654.8 900,656.9 902,657 904,656.5 906,656.4 908,656.6 910,657.3 911.9,657.1 913.8,656.5 915.6,656.8 917.5,656.8 919.6,656.9 921.7,655.3 923.8,654.6 925.6,657.4 927.5,658.4 929.4,657.1 931.2,658.6 933.1,657 935,657.8 936.9,656.4 938.8,655.9 940.6,656.1 942.5,655.7 945,657.9 947.5,658.9 949.4,658.6 951.2,658.4 953.1,658.7 955,659.1 956.9,658.8 958.8,660 960.6,661.6 962.5,661.5 964.5,661.4 966.5,660.6 968.5,660.9 970.5,661.5 972.5,660.3 975,663.2 977.5,664.7 979.4,664.7 981.2,667.6 983.1,667.2 985,668.7 986.9,669 988.8,670.4 990.6,670.2 992.5,669.8 994.6,666.9 996.7,665.2 998.8,663.9 1000.6,662.7 1002.5,660.6 1004.4,662 1006.2,665.2 1008.3,665.3 1010.4,665.7 1012.5,667.2 1015,669 1017.5,672.7 1020,676.3 1022.5,673 1025,671.5 1027.5,672.6 1030,672.1 1032.5,673.4 1035,672.4 1037.5,672.8 1039.7,673.5 1041.9,674 1045,676.3 1047.5,677 1050,675.4 1053.1,672.2 1055.3,673 1057.5,671.1 1059.4,671.9 1061.2,672.2 1063.8,667.7 1066.2,664.1 1068.1,660.9 1071.2,660 1073.1,660.1 1075,661 1077.5,664.1 1080,668.7 1081.9,669.9 1083.8,668.9 1086.9,670.9 1089.4,666.7 1092.5,668.5 1095.6,668.5 1098.1,664.6 1101.2,664.2 1103.1,664 1105,664.6 1106.9,666.2 1108.8,666.6 1110.6,666.4 1112.5,667.1 1114.4,667.1 1116.2,668.1 1118.1,670.3 1120,671.1 1121.9,670.6 1123.8,671.5 1125.6,671.4 1127.5,671.5 1129.4,670 1131.2,669.5 1133.1,666.7 1135,666 1137.5,662.5"/>
<polyline class="ln" stroke="#d62728" points="107.5,370 109.5,369.4 111.5,369.7 113.5,369.4 115.5,369.8 117.5,370.5 119.4,376.2 121.2,381.1 123,381.2 124.8,381.3 126.5,383.2 128.2,382.9 130,384.1 131.9,382.4 133.8,381 135.6,381.2 137.5,381.1 139.2,381.7 141,382.3 142.8,381.7 144.5,380.9 146.2,381.4 147.5,375.5 149.5,375.1 151.5,375.2 153.5,374.5 155.5,376.1 157.5,375.8 159.5,375.4 161.5,376.6 163.5,377.3 165.5,377.6 167.5,377.7 169.4,380 171.2,382 173.1,383.8 175,383.9 176.9,384.7 178.8,385.3 180.6,387 182.5,388.4 184.6,391.1 186.7,392.9 188.8,393.6 191.2,392.2 193.8,390.2 196.2,392.2 198.8,417.7 200.6,417.6 202.5,416.3 205,424.2 207.5,424.4 210,425.7 212.5,425.1 215,423.9 217.5,428.3 220,440 222.5,443.3 225,446.2 227.5,449 230,453.9 232.5,458 235,460.2 236.9,465.8 238.8,472.5 240.6,467.2 242.5,461.3 244.4,460.8 246.2,458.6 248.1,461.4 250,462.8 251.9,468.1 253.8,474.5 255.6,482.8 257.5,489.9 259.4,494.6 261.2,498 263.3,497.3 265.4,497.7 267.5,496.8 270,497.7 272.5,498.4 275,502.3 277.5,504.7 280,508.3 282.5,510 284.4,511 286.2,511.8 288.1,513.5 290,515.7 291.9,516 293.8,518.9 295.6,519.7 297.5,519.7 299.4,520.4 301.2,522.6 303.1,525.4 305,526.3 306.9,526.3 308.8,527.2 310.6,526.4 312.5,527.1 314.4,529.1 316.2,532 318.1,533.3 320,534.8 321.9,535.9 323.8,537.6 325.6,537.3 327.5,538.3 329.4,537.5 331.2,536.4 333.1,534.9 335,534.6 336.9,536 338.8,535.5 340.6,535.9 342.5,537.4 344.4,537.4 346.2,538.9 348.1,539.5 350,538.9 351.8,538.9 353.6,537.8 355.4,538.4 357.1,539 358.9,540.4 360.7,538.8 362.5,539.7 364.4,541.7 366.2,542.6 368.1,542.7 370,543.3 371.8,543 373.6,542 375.4,542.7 377.1,543.8 378.9,542.7 380.7,543.3 382.5,543.3 384.3,542.4 386.1,544.1 387.9,542.8 389.6,543.7 391.4,543.2 393.2,543 395,544.1 396.9,544.5 398.8,545.2 400.6,546.7 402.5,546.5 404.4,546 406.2,546.5 408.1,548.1 410,547.9 411.9,550.4 413.8,554.7 416.2,562.2 418.1,562.4 420,562.6 420,562.7 422.5,568.2 425,571.1 427.5,575.6 430,579.7 432.5,582 435,583.5 437,582.6 439,582.6 441,582.7 443,583.6 445,585.1 447.5,588.1 450,591.1 452.5,592.2 455,595.2 457.5,595 460,592.3 461.9,590.1 463.8,588.6 466.2,590.1 468.8,592 470.6,593.8 472.5,595 474.4,594.8 476.2,596.4 478.1,595.8 480,594.6 481.9,593.2 483.8,592.8 486.2,589.7 488.8,589.1 490.6,584.4 492.5,577.7 494.4,581.8 496.2,585.9 498.3,586.3 500.4,586.4 502.5,586.1 505,581.6 507.5,575.9 509.4,575.6 511.2,577.1 513.1,575.8 515,576.7 516.9,581.3 518.8,586.5 521.2,592.3 523.8,596 525.8,598.7 527.9,599.1 530,601 532.1,601.8 534.2,602.7 536.2,604.2 538.3,598.7 540.4,594.7 542.5,589.6 545,586.8 547.5,585.8 549.4,588 551.2,589.8 553.8,586.4 556.2,581.3 558.1,580.6 560,577.5 561.9,576 563.8,575.2 565.5,576.3 567.2,574.3 569,574.6 570.8,575.1 572.5,574.9 574.4,575.6 576.2,574.9 578.1,575.7 580,575.3 582.1,576.4 584.2,577.5 586.2,579 588.8,578.8 591.2,579.6 593.8,584.9 596.2,588.9 598.8,593.3 600.8,592.3 602.9,590.3 605,587.2 606.9,588.6 608.8,589 610.6,589.6 612.5,591 614.4,589.9 616.2,591.8 618.1,590.5 620,590.9 621.9,591.7 623.8,591.9 625.6,590.7 627.5,589.8 630,592.7 632.5,593.4 634.6,597.3 636.7,600 638.8,605.2 641.2,608.8 643.8,611.2 645.6,606.2 647.5,603.2 649.4,604.4 651.2,606.7 653.3,606.2 655.4,605.3 657.5,602.8 659.2,603.8 661,603.2 662.8,602.2 664.5,602.1 666.2,601.5 668.3,599.4 670.4,599.3 672.5,598.9 675,604.3 677,602.9 679,603.1 681,603.3 683,602.6 685,602.7 687,601.8 689,604 691,603.4 693,605 695,604.8 697.5,610.6 700,614.1 701.9,622.2 703.8,628.9 705.6,629.8 707.5,632.6 709.4,630.9 711.2,628 713.1,627.5 715,627.5 716.9,628.1 718.8,626.8 721.2,629.2 723.8,630.8 725.8,631.6 727.9,633 730,632.9 732.5,635.4 735,639.6 737.5,642.3 740,644.3 741.8,644 743.5,644 745.2,643.5 747,644 748.8,642.9 750,664.2 751.9,659.4 753.8,656.5 756.2,660.3 758.8,665 761.2,666.2 763.8,668.4 765,676.2 767.5,660.2 770,661.9 772.5,662.9 775,665 777.5,666.3 779.4,661.8 781.2,658.4 783.3,656.6 785.4,656 787.5,654.7 789.6,654.2 791.7,653.8 793.8,653 796.2,649.7 798.8,648.3 800.8,647.1 802.9,647.1 805,647.2 806.9,646.9 808.8,648.9 810.6,648.7 812.5,649.5 814.5,649.5 816.5,648.6 818.5,649.1 820.5,649.1 822.5,649.9 824.5,651.4 826.5,650.1 828.5,650.6 830.5,651.5 832.5,652.4 834.5,650.8 836.5,650.8 838.5,651.6 840.5,651.5 842.5,649.7 844.5,648.8 846.5,648.3 848.5,647.9 850.5,647.6 852.5,647.6 854.5,648 856.5,648.8 858.5,647.6 860.5,647 862.5,647.5 864.5,648 866.5,648.6 868.5,647.8 870.5,647.9 872.5,646.7 874.6,645.8 876.7,645.3 878.8,642.6 881.2,638.3 883.8,635.7 885.6,631.8 887.5,629.3 889.6,630.2 891.7,631.9 893.8,631 895.8,630.3 897.9,630.8 900,630.2 901.9,630.5 903.8,628.9 905.6,629 907.5,629.1 909.4,629 911.2,627.8 913.1,628.5 915,627.1 916.9,627.4 918.8,626.1 920.6,624.5 922.5,625.1 924.4,623.8 926.2,621.9 928.1,622 930,620.6 931.9,619.9 933.8,617.9 935.6,616 937.5,615.2 939.6,613.7 941.7,613.4 943.8,612.1 945.8,612.2 947.9,614 950,615.1 951.9,614 953.8,615.2 955.6,615.5 957.5,615 959.4,614.2 961.2,613.4 963.1,614.8 965,613.7 966.9,612.3 968.8,611.9 970.6,611.2 972.5,612 975,615.8 977.5,618 979.6,618.8 981.7,619 983.8,620.5 985.8,620.8 987.9,621 990,622.5 992.1,622.7 994.2,621.3 996.2,619.9 998.3,618.1 1000.4,615.5 1002.5,615 1004.6,613 1006.7,611.1 1008.8,607.9 1010.8,606.4 1012.9,605.8 1015,605.3 1017.5,606.5 1020,608.9 1022.1,608.6 1024.2,608.9 1026.2,608.5 1028.1,608.3 1030,608.4 1031.9,607.5 1033.8,606.2 1035.5,606.6 1037.2,606.3 1038.9,606.8 1040.6,607.9 1043.1,616.3 1046.2,618.6 1048.1,624.7 1050.3,624.1 1052.5,623.3 1055,620.3 1057.5,618.8 1059.4,618.5 1061.2,616.2 1063.1,621.5 1065.6,620.9 1068.1,616.7 1070,615.9 1071.9,616.7 1073.8,615.1 1076.2,616.3 1078.8,618.8 1081.2,618.2 1083.8,618.3 1085.9,619.2 1088.1,620.4 1090,620.2 1091.9,620.7 1093.8,621.1 1096.2,620.2 1098.8,619.8 1100.6,620.7 1102.5,619.8 1105,622.5 1106.9,623.7 1108.8,623 1110.6,624.5 1112.5,624.8 1115,625 1117.5,624.1 1119.7,624.7 1121.9,626.1 1124.1,626.8 1126.2,626.1 1128.1,627.3 1130,628.5 1132.5,628.9 1135,624.1 1137.5,620.4"/>
<polyline class="ln" stroke="#9467bd" points="107.5,370 109.5,370.9 111.5,369.5 113.5,371.1 115.5,371.2 117.5,370.4 119.4,374.3 121.2,378.3 123,377.6 124.8,379 126.5,379.8 128.2,378.8 130,379.6 131.9,378.9 133.8,378.8 135.6,379.2 137.5,377.9 139.2,377.3 141,377.9 142.8,379.6 144.5,378.9 146.2,379.3 147,371.3 148.8,372.1 150.5,372.9 152.2,372 154,371.5 155.8,371.1 157.5,372 159.5,371.5 161.5,372.4 163.5,373.4 165.5,372.2 167.5,372.9 169.4,373 171.2,374.2 173.1,375.9 175,376.7 176.9,378.6 178.8,379.7 180.6,378.6 182.5,380.3 184.4,380.3 186.2,382.1 188.1,383.3 190,384.9 192.1,383.5 194.2,383.6 196.2,383.8 198.8,401.4 200.6,399.6 202.5,400.1 205,398.4 207.5,397.5 209.6,396.6 211.7,396.9 213.8,396.3 216.2,397.8 218.8,397.2 221.2,406 223.1,409.8 225,410.9 227.5,413.1 230,417.5 232.5,421.8 235,423.5 237.5,424.7 240,427.6 242.5,428.8 245,430.4 247.1,430.7 249.2,431.4 251.2,433.3 253.8,444.8 256.2,454.2 258.1,455 260,455.8 261.9,451.7 263.8,447.3 265.6,445.4 267.5,444.5 270,446.6 272.5,449.7 275,453.4 277.5,455.3 279.4,457.1 281.2,457.2 283.1,456.9 285,458.8 286.9,459.6 288.8,460.8 290.6,459 292.5,459.4 295,459.6 297.5,458.5 299.4,458.6 301.2,459.7 303.1,462.7 305,463.8 307.1,466.1 309.2,467.3 311.2,467.6 313.3,469.7 315.4,472 317.5,474.6 319.5,476.1 321.5,475.8 323.5,476.1 325.5,476.4 327.5,477 329.5,477.2 331.5,476.4 333.5,475.3 335.5,474.9 337.5,474.1 339.4,474.9 341.2,475.3 343.1,475 345,475.8 346.9,477.2 348.8,478.7 350.6,480.1 352.5,479.9 354.5,480.2 356.5,479.7 358.5,481.3 360.5,482.1 362.5,482.3 364.2,483.2 366,484.5 367.8,484.2 369.5,484.9 371.2,485.1 373.1,485.5 375,484.8 376.9,484.2 378.8,486.5 380.6,487.2 382.5,486.9 384.5,487.1 386.5,484.8 388.5,483.8 390.5,483.7 392.5,483.8 394.4,484.9 396.2,485.6 398.1,485.8 400,486 402,486.6 404,486.4 406,487.3 408,486.5 410,487.8 411.9,491.7 413.8,497.9 416.2,499.3 418.8,495.4 420,494.8 422.1,493.8 424.2,494.1 426.2,493.7 428.1,497.1 430,499.6 431.9,504.2 433.8,507.7 435.8,509.3 437.9,510.2 440,509.7 442.5,509.7 445,511.2 446.9,517.8 448.8,524.6 450.8,526.3 452.9,528.1 455,528.1 456.9,528.2 458.8,528.5 460.6,529.3 462.5,528.9 464.4,528.9 466.2,529.5 468.1,529.7 470,531 471.9,530.9 473.8,532.6 475.6,531.7 477.5,532.2 479.6,531.4 481.7,531.5 483.8,531.6 486.2,533.9 488.8,536.2 490.6,538.8 492.5,539.7 495,549.8 497.5,551.9 500,553.4 501.9,552.5 503.8,553.5 505.6,553.1 507.5,551.9 509.4,553.5 511.2,553.2 513.1,553.6 515,554 516.9,560.5 518.8,565 520.6,569.1 522.5,574.8 525,577.4 527.5,579.2 529.4,579.6 531.2,579.5 533.1,580.8 535,580 536.9,580 538.8,578.6 540.6,579.5 542.5,579.3 544.4,579.1 546.2,577.2 548.1,578.6 550,578 552.5,573.2 555,567.6 557.5,559.8 559.4,559.1 561.2,558.3 563.1,556.9 565,557 566.9,556.8 568.8,556 570.6,555.3 572.5,555.3 574.4,554.1 576.2,554.5 578.1,555.6 580,554.3 582.1,555.8 584.2,556.6 586.2,557.7 588.8,558.7 591.2,558.6 593.1,562 595,566.7 596.9,567.5 598.8,569.7 600.8,570.2 602.9,568.8 605,568.1 606.9,568.3 608.8,568.3 610.6,569 612.5,569.2 614.4,567.5 616.2,567.4 618.1,566.2 620,566.7 621.9,567.5 623.8,566.8 625.6,565.3 627.5,566.1 630,568 632.5,570.8 634.6,574.9 636.7,577.5 638.8,580.5 641.2,581 643.8,582.7 645.6,584.2 647.5,586.3 649.4,583.6 651.2,582.5 653.3,580.7 655.4,580.7 657.5,580.2 659.2,578.7 661,578.5 662.8,579.7 664.5,578.8 666.2,578 668.3,578.6 670.4,577.8 672.5,576.3 675,587.9 677,588.3 679,587.9 681,586.7 683,586.7 685,587.3 687,586.1 689,586.7 691,587.2 693,585.8 695,585.2 697.5,587.7 700,588.3 701.9,591.5 703.8,593.9 705.6,590.1 707.5,587.2 709.4,589.9 711.2,593.7 713.1,593.7 715,594.8 716.9,594.2 718.8,593.9 721.2,597.8 723.8,599.8 725.8,600.9 727.9,600 730,601.4 732.5,604.1 735,608.4 737.5,607.7 740,609 741.8,607.4 743.5,605.9 745.2,606.5 747,605.5 748.8,603.6 750,640.4 752.5,643.3 755,647.1 757.5,650.6 760,653.3 761.9,656.1 763.8,657.5 766.2,667.4 768.1,664.6 770,661 772.5,666.4 775,669.7 777.5,667.1 780,665.1 782.1,664.4 784.2,666.7 786.2,666.4 788.3,667.2 790.4,666.3 792.5,666.2 794.6,664.9 796.7,664.6 798.8,662.1 800.8,662.4 802.9,661.6 805,661 807.1,662.8 809.2,664.3 811.2,663.5 813,665.4 814.8,666.5 816.5,666.2 818.2,666 820,667.1 821.8,668.3 823.5,668.8 825.2,668.8 827,669.1 828.8,668.2 830,674.7 831.9,676.1 833.8,675.6 835.6,675.8 837.5,676.2 839.4,674.8 841.2,675.7 843.1,673.5 845,673.6 846.9,671.9 848.8,672.6 850.6,670.7 852.5,671.4 854.4,671.3 856.2,670.6 858.1,671.1 860,670.1 861.9,669.7 863.8,670.5 865.6,669.4 867.5,669.7 869.4,668.7 871.2,668.3 873.1,668.9 875,668.5 877.5,666.4 880,664.5 882.1,663.7 884.2,663 886.2,661.8 888,661.9 889.8,663 891.5,663.7 893.2,664 895,662.7 897,663.3 899,664 901,662.5 903,662.7 905,663.1 907,662.9 909,662.3 911,661.8 913,661.3 915,662.4 917,661.7 919,661.2 921,661.6 923,660.3 925,660.2 926.9,658.8 928.8,659.6 930.6,658.5 932.5,658.9 934.4,658.4 936.2,657.8 938.1,655.4 940,654.7 942.1,657 944.2,657.3 946.2,659.8 948.3,658.6 950.4,659 952.5,657.6 954.4,656.1 956.2,656.4 958.1,657.2 960,655.8 961.9,657.3 963.8,656.7 965.6,657.5 967.5,657.3 969.6,658.4 971.7,659.9 973.8,659.4 976.2,664.4 978.8,667.8 980.6,667.4 982.5,668.1 984.4,668.4 986.2,669.4 988.3,670.1 990.4,670 992.5,669 994.6,667.2 996.7,664.9 998.8,663.7 1000.8,661.4 1002.9,662 1005,660.1 1006.9,659.5 1008.8,657 1010.6,655.5 1012.5,655.5 1014.6,657 1016.7,656.7 1018.8,656.7 1020,657.7 1022.5,658.6 1025,657.8 1027.5,658.4 1030,658.5 1032.5,657.2 1035,657.8 1036.9,658.1 1038.8,658.2 1040.6,658.1 1043.1,659.1 1045,660.5 1046.9,661.1 1050,662.4 1052.5,662.2 1055,661.7 1057.5,660.2 1060,660 1062.5,660 1065,659.1 1066.9,657.2 1068.8,656.5 1071.2,656.9 1073.8,655.4 1075.9,656.9 1078.1,657.4 1081.2,659.8 1083.8,658.5 1085.8,658.5 1087.9,658.9 1090,658.5 1092.5,659.3 1095,658.5 1098.1,656.8 1100.3,657.8 1102.5,656.8 1105,660.9 1107.5,662.3 1110,661.9 1112.5,662.6 1115,663 1117.5,664.3 1120,663.6 1122.1,665.1 1124.2,665.5 1126.2,664.9 1128.8,664.5 1131.2,665.8 1133.1,664.4 1135,664.3 1137.5,662.5"/>
<polyline class="ln" stroke="#8c564b" points="107.5,408.8 112.5,408.8 112.5,403.8 116.2,397.5 118.8,397.5 118.8,422.5 120,416.2 128.8,416.2 129.5,423.8 146.2,423.8 147,371.2 148.8,390 152.5,390 153.2,405 191.2,405 192.5,397.5 194.5,407.5 197.5,407.5 198.8,423.8 203.8,423.8 203.8,417.5 211.2,417.5 212.5,399.5 217.5,399.5 218,405 230,405 230.5,411.2 236.2,411.2 237,418.8 241.8,418.8 242.5,441.2 253,441.2 254,448.8 263.8,447.5 264.5,458.8 268,458.8 268.8,468 275,468.8 275.5,462.5 278,462.5 279,504.5 285,504.5 285.5,498 305,498 305.8,505 310.5,505 311.5,511.2 352,511.2 353,520.5 415,520.5 417,520 417.5,482 420,482 420,482 426.2,482 427,475.5 430.5,475.5 432,495 433,502.5 434.5,496.2 441.2,496.2 442.5,503 460,503 460.8,483.8 471.2,483.8 472,473.8 478,473.8 479,510 480.5,496.2 483.8,496.2 485,455 491.2,455 492.5,470 493.8,502.5 495,531.2 496.2,503.8 511.2,503 512.5,492.5 518,492.5 519.5,506.2 548.8,506.2 550,500 556.2,499.5 557,493.8 558,515 559,509.5 578.8,509.5 580,491.2 593.8,491.2 595,502.5 597,514.5 620,514.5 621.2,507 626.2,507 627.5,523 634.5,523 635.5,511.2 683.8,511.2 685,517.5 702,517.5 702.5,523.8 703.8,508 707,508 708,520 708.8,540 710,553.8 711.2,563.8 715,564.5 715.8,575 735.5,575 736.2,565 740,565 749.5,565 750.5,598.8 756.2,598.8 757.5,592.5 763,592.5 764.5,580 765.5,615 767,620.5 778.8,620.5 780,614.5 867,614.5 868,628.8 932,628.8 933,622 975,622 976.2,640.5 1007,640.5 1008,651.2 1018.8,651.2 1019.5,642 1020,641.5 1046,641.5 1046.9,658.8 1078.1,658.8 1079,669 1102.5,669 1103.5,677.4 1103.5,678.2 1137.5,678.2"/>
</g>
<line x1="107.5" x2="107.5" y1="368.5" y2="677.7" stroke="#222" stroke-width="1.25"/>
<line x1="106.9" x2="1138.5" y1="677" y2="677" stroke="#222" stroke-width="1.25"/>
<line x1="102.5" x2="107.5" y1="677" y2="677" stroke="#111" stroke-width="1.1"/>
<text x="97" y="679.8" class="tk" text-anchor="end">0.00</text>
<line x1="104.5" x2="107.5" y1="664.7" y2="664.7" stroke="#111" stroke-width="0.9"/>
<line x1="104.5" x2="107.5" y1="652.4" y2="652.4" stroke="#111" stroke-width="0.9"/>
<line x1="104.5" x2="107.5" y1="640" y2="640" stroke="#111" stroke-width="0.9"/>
<line x1="104.5" x2="107.5" y1="627.7" y2="627.7" stroke="#111" stroke-width="0.9"/>
<line x1="102.5" x2="107.5" y1="615.4" y2="615.4" stroke="#111" stroke-width="1.1"/>
<text x="97" y="618.2" class="tk" text-anchor="end">200.00 m</text>
<line x1="104.5" x2="107.5" y1="603.1" y2="603.1" stroke="#111" stroke-width="0.9"/>
<line x1="104.5" x2="107.5" y1="590.8" y2="590.8" stroke="#111" stroke-width="0.9"/>
<line x1="104.5" x2="107.5" y1="578.4" y2="578.4" stroke="#111" stroke-width="0.9"/>
<line x1="104.5" x2="107.5" y1="566.1" y2="566.1" stroke="#111" stroke-width="0.9"/>
<line x1="102.5" x2="107.5" y1="553.8" y2="553.8" stroke="#111" stroke-width="1.1"/>
<text x="97" y="556.6" class="tk" text-anchor="end">400.00 m</text>
<line x1="104.5" x2="107.5" y1="541.5" y2="541.5" stroke="#111" stroke-width="0.9"/>
<line x1="104.5" x2="107.5" y1="529.2" y2="529.2" stroke="#111" stroke-width="0.9"/>
<line x1="104.5" x2="107.5" y1="516.8" y2="516.8" stroke="#111" stroke-width="0.9"/>
<line x1="104.5" x2="107.5" y1="504.5" y2="504.5" stroke="#111" stroke-width="0.9"/>
<line x1="102.5" x2="107.5" y1="492.2" y2="492.2" stroke="#111" stroke-width="1.1"/>
<text x="97" y="495" class="tk" text-anchor="end">600.00 m</text>
<line x1="104.5" x2="107.5" y1="479.9" y2="479.9" stroke="#111" stroke-width="0.9"/>
<line x1="104.5" x2="107.5" y1="467.6" y2="467.6" stroke="#111" stroke-width="0.9"/>
<line x1="104.5" x2="107.5" y1="455.2" y2="455.2" stroke="#111" stroke-width="0.9"/>
<line x1="104.5" x2="107.5" y1="442.9" y2="442.9" stroke="#111" stroke-width="0.9"/>
<line x1="102.5" x2="107.5" y1="430.6" y2="430.6" stroke="#111" stroke-width="1.1"/>
<text x="97" y="433.4" class="tk" text-anchor="end">800.00 m</text>
<line x1="104.5" x2="107.5" y1="418.3" y2="418.3" stroke="#111" stroke-width="0.9"/>
<line x1="104.5" x2="107.5" y1="406" y2="406" stroke="#111" stroke-width="0.9"/>
<line x1="104.5" x2="107.5" y1="393.6" y2="393.6" stroke="#111" stroke-width="0.9"/>
<line x1="104.5" x2="107.5" y1="381.3" y2="381.3" stroke="#111" stroke-width="0.9"/>
<line x1="102.5" x2="107.5" y1="369" y2="369" stroke="#111" stroke-width="1.1"/>
<text x="97" y="371.8" class="tk" text-anchor="end">1.00</text>
<line x1="143.8" x2="143.8" y1="677" y2="682" stroke="#111" stroke-width="1.1"/>
<text x="143.8" y="692.6" class="tk" text-anchor="middle">11/13</text>
<line x1="363" x2="363" y1="677" y2="682" stroke="#111" stroke-width="1.1"/>
<text x="363" y="692.6" class="tk" text-anchor="middle">11/16</text>
<line x1="582" x2="582" y1="677" y2="682" stroke="#111" stroke-width="1.1"/>
<text x="582" y="692.6" class="tk" text-anchor="middle">11/19</text>
<line x1="801.5" x2="801.5" y1="677" y2="682" stroke="#111" stroke-width="1.1"/>
<text x="801.5" y="692.6" class="tk" text-anchor="middle">11/22</text>
<line x1="1020.3" x2="1020.3" y1="677" y2="682" stroke="#111" stroke-width="1.1"/>
<text x="1020.3" y="692.6" class="tk" text-anchor="middle">11/25</text>
<text class="lb" x="623" y="711" text-anchor="middle">Date (UTC)</text>
<text class="lb" transform="translate(27.5,522.5) rotate(-90)" text-anchor="middle">Norm. CVD (arb. u.)</text>
<rect x="1139.5" y="538.8" width="124.5" height="137.5" fill="#fff" fill-opacity="0.8" stroke="#efefef" stroke-width="1"/>
<line x1="1147" x2="1164.3" y1="556.3" y2="556.3" stroke="#1f77b4" stroke-width="1.9"/>
<text x="1169.4" y="560.3" class="lg">all orders</text>
<line x1="1147" x2="1164.3" y1="576.7" y2="576.7" stroke="#ff7f0e" stroke-width="1.9"/>
<text x="1169.4" y="580.7" class="lg">$100 to $1k</text>
<line x1="1147" x2="1164.3" y1="597.1" y2="597.1" stroke="#2ca02c" stroke-width="1.9"/>
<text x="1169.4" y="601.1" class="lg">$1k to $10k</text>
<line x1="1147" x2="1164.3" y1="617.5" y2="617.5" stroke="#d62728" stroke-width="1.9"/>
<text x="1169.4" y="621.5" class="lg">$10k to $100k</text>
<line x1="1147" x2="1164.3" y1="637.9" y2="637.9" stroke="#9467bd" stroke-width="1.9"/>
<text x="1169.4" y="641.9" class="lg">$100k to $1M</text>
<line x1="1147" x2="1164.3" y1="658.3" y2="658.3" stroke="#8c564b" stroke-width="1.9"/>
<text x="1169.4" y="662.3" class="lg">$1M to $10M</text>
</svg></body></html>
